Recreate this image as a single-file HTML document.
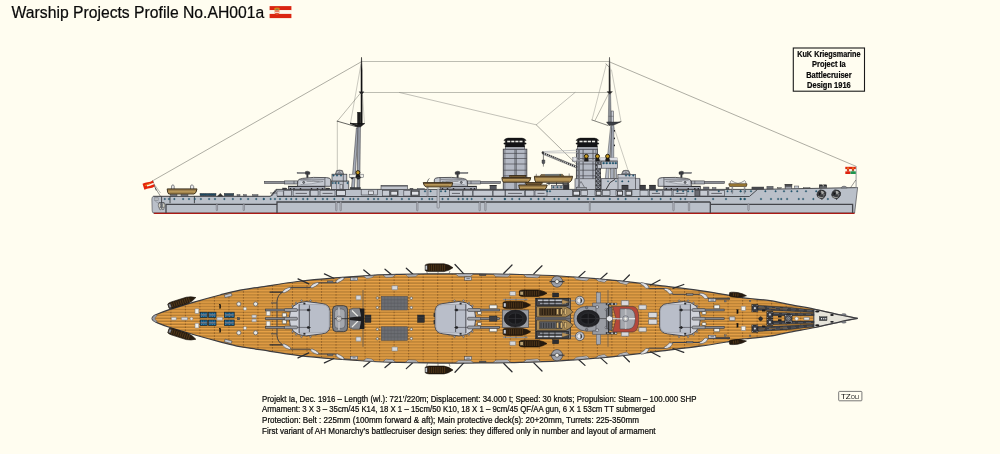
<!DOCTYPE html>
<html lang="en">
<head>
<meta charset="utf-8">
<title>Warship Projects Profile No.AH001a</title>
<style>
html,body{margin:0;padding:0;background:#FFFDF0;}
body{width:1000px;height:454px;overflow:hidden;position:relative;font-family:"Liberation Sans",sans-serif;}
svg{position:absolute;left:0;top:0;display:block;}
text{font-family:"Liberation Sans",sans-serif;}
</style>
</head>
<body>
<svg width="1000" height="454" viewBox="0 0 1000 454">
<defs>
<pattern id="deck" x="0" y="1.58" width="20" height="2.94" patternUnits="userSpaceOnUse">
<rect x="0" y="0" width="20" height="2.94" fill="#AC7730"/>
<rect x="0" y="-0.1" width="20" height="1.6" fill="#EBA448"/>
<rect x="0" y="1.5" width="20" height="0.25" fill="#C88C3C"/>
<rect x="0" y="2.7" width="20" height="0.24" fill="#C88C3C"/>
</pattern>
<clipPath id="hullclip"><path d="M151.90 318.40 C152.17 318.03 152.57 316.93 153.50 316.20 C154.43 315.47 154.75 315.15 157.50 314.00 C160.25 312.85 163.75 311.33 170.00 309.30 C176.25 307.27 186.67 304.18 195.00 301.80 C203.33 299.42 212.50 296.95 220.00 295.00 C227.50 293.05 233.33 291.42 240.00 290.10 C246.67 288.78 250.42 288.53 260.00 287.10 C269.58 285.67 285.00 283.05 297.50 281.50 C310.00 279.95 322.50 278.83 335.00 277.80 C347.50 276.77 361.67 275.87 372.50 275.30 C383.33 274.73 388.75 274.65 400.00 274.40 C411.25 274.15 426.67 273.88 440.00 273.80 C453.33 273.72 466.67 273.78 480.00 273.90 C493.33 274.02 506.67 274.15 520.00 274.50 C533.33 274.85 546.67 275.25 560.00 276.00 C573.33 276.75 590.00 278.18 600.00 279.00 C610.00 279.82 610.00 279.78 620.00 280.90 C630.00 282.02 646.67 284.08 660.00 285.70 C673.33 287.32 688.50 289.02 700.00 290.60 C711.50 292.18 722.33 294.07 729.00 295.20 C735.67 296.33 736.50 296.85 740.00 297.40 C743.50 297.95 745.00 297.95 750.00 298.50 C755.00 299.05 763.33 299.67 770.00 300.70 C776.67 301.73 782.50 303.27 790.00 304.70 C797.50 306.13 806.67 307.60 815.00 309.30 C823.33 311.00 832.90 313.38 840.00 314.90 C847.10 316.42 854.67 317.82 857.60 318.40 L857.60 318.40 C854.67 318.98 847.10 320.38 840.00 321.90 C832.90 323.42 823.33 325.80 815.00 327.50 C806.67 329.20 797.50 330.67 790.00 332.10 C782.50 333.53 776.67 335.07 770.00 336.10 C763.33 337.13 755.00 337.75 750.00 338.30 C745.00 338.85 743.50 338.85 740.00 339.40 C736.50 339.95 735.67 340.47 729.00 341.60 C722.33 342.73 711.50 344.62 700.00 346.20 C688.50 347.78 673.33 349.48 660.00 351.10 C646.67 352.72 630.00 354.78 620.00 355.90 C610.00 357.02 610.00 356.98 600.00 357.80 C590.00 358.62 573.33 360.05 560.00 360.80 C546.67 361.55 533.33 361.95 520.00 362.30 C506.67 362.65 493.33 362.78 480.00 362.90 C466.67 363.02 453.33 363.08 440.00 363.00 C426.67 362.92 411.25 362.65 400.00 362.40 C388.75 362.15 383.33 362.07 372.50 361.50 C361.67 360.93 347.50 360.03 335.00 359.00 C322.50 357.97 310.00 356.85 297.50 355.30 C285.00 353.75 269.58 351.13 260.00 349.70 C250.42 348.27 246.67 348.02 240.00 346.70 C233.33 345.38 227.50 343.75 220.00 341.80 C212.50 339.85 203.33 337.38 195.00 335.00 C186.67 332.62 176.25 329.53 170.00 327.50 C163.75 325.47 160.25 323.95 157.50 322.80 C154.75 321.65 154.43 321.33 153.50 320.60 C152.57 319.87 152.17 318.77 151.90 318.40 Z"/></clipPath>
</defs>
<g id="rigging" fill="none" stroke-linecap="round">
<path d="M153.5 180.3 L361.3 61.8" fill="none" stroke="#77776F" stroke-width="0.6" />
<path d="M361.5 61.5 L609.3 61.5" fill="none" stroke="#A0A096" stroke-width="0.7" />
<path d="M361.5 92.5 L609.3 92.5" fill="none" stroke="#A0A096" stroke-width="0.7" />
<path d="M609.8 62.0 L856.0 166.3" fill="none" stroke="#77776F" stroke-width="0.6" />
<path d="M399.5 92.5 L536.2 124.8 L575.0 92.5" fill="none" stroke="#85857E" stroke-width="0.5" />
<path d="M536.2 124.8 L575.5 163.2" fill="none" stroke="#66665F" stroke-width="0.55" />
<path d="M361.0 64.0 L350.5 123.0" fill="none" stroke="#8A8A84" stroke-width="0.45" />
<path d="M361.0 92.5 L337.3 121.2" fill="none" stroke="#66665F" stroke-width="0.45" />
<path d="M337.3 121.2 L337.3 170.0" fill="none" stroke="#8A8A84" stroke-width="0.5" />
<path d="M337.3 121.2 L357.4 127.0" fill="none" stroke="#222" stroke-width="0.7" />
<path d="M350.5 123.0 L357.0 125.0" fill="none" stroke="#33332F" stroke-width="0.6" />
<path d="M362.5 95.0 L364.5 123.5 L358.0 126.5" fill="none" stroke="#8A8A84" stroke-width="0.4" />
<path d="M606.3 64.5 L592.0 120.0" fill="none" stroke="#8A8A84" stroke-width="0.45" />
<path d="M609.0 93.0 L595.0 120.5" fill="none" stroke="#66665F" stroke-width="0.45" />
<path d="M592.0 120.0 L608.0 125.5" fill="none" stroke="#33332F" stroke-width="0.6" />
<path d="M611.5 70.0 L621.0 121.5" fill="none" stroke="#8A8A84" stroke-width="0.45" />
<path d="M621.0 121.5 L612.0 124.5" fill="none" stroke="#33332F" stroke-width="0.6" />
<path d="M613.5 126.0 L628.3 171.0" fill="none" stroke="#8A8A84" stroke-width="0.45" />
<path d="M606.0 63.8 L609.0 67.0" fill="none" stroke="#444" stroke-width="0.5" />
</g>
<g id="masts">
<path d="M361.5 57.3 L362.1 70 L362.2 125 L361 125 L361 70 Z" fill="#111" stroke="#111" stroke-width="0.5" />
<rect x="357.50" y="112.20" width="3.20" height="13.60" fill="#1c1c1c" stroke="#111" stroke-width="0.4" />
<path d="M359 91.8 L364 91.8 L361.6 94.5 Z" fill="#222" stroke="#222" stroke-width="0.3" />
<path d="M350 123.6 L364.6 123.6" fill="none" stroke="#111" stroke-width="0.9" />
<path d="M350 123.6 L357.4 127 L360.6 127 L364.6 123.6 L361 124.4 L357 124.4 Z" fill="#1c1c1c" stroke="#111" stroke-width="0.3" />
<path d="M356.4 128 L358.2 128 L354.4 188.2 L351.5 188.2 Z" fill="#A7ADB9" stroke="#3f4046" stroke-width="0.6" />
<path d="M358.0 127 L360.4 127 L359.7 188.2 L357.0 188.2 Z" fill="#9DA3AE" stroke="#3f4046" stroke-width="0.6" />
<rect x="350.20" y="187.60" width="10.20" height="1.80" fill="#3a3b40" stroke="#222326" stroke-width="0.4" />
<path d="M609.5 57.3 L610.1 70 L610.3 92 L609 92 L609 70 Z" fill="#222" stroke="#333" stroke-width="0.5" />
<path d="M607 91.6 L612.5 91.6 L609.8 94.6 Z" fill="#222" stroke="#222" stroke-width="0.3" />
<path d="M608.8 94 L610.6 94 L611.2 122 L608.3 122 Z" fill="#8E9298" stroke="#55565C" stroke-width="0.5" />
<rect x="611.20" y="111.00" width="2.30" height="12.00" fill="#C9CDD6" stroke="#3C3C40" stroke-width="0.5" />
<line x1="608.50" y1="116.30" x2="613.50" y2="116.30" stroke="#55565C" stroke-width="0.5" />
<path d="M606.5 122 L620.5 122 L614 125 L609 125.5 Z" fill="#3a3d44" stroke="#222" stroke-width="0.4" />
<path d="M610.7 125.5 L612.0 125.5 L608.5 178.8 L605.3 178.8 Z" fill="#B9BEC8" stroke="#3f4046" stroke-width="0.5" />
<path d="M611.6 125.5 L613.8 125.5 L613.7 178.8 L610.3 178.8 Z" fill="#A7ADB9" stroke="#3f4046" stroke-width="0.5" />
<path d="M611.9 128 L610.6 170" fill="none" stroke="#55565c" stroke-width="0.4" />
<rect x="614.80" y="168.20" width="1.70" height="10.60" fill="#B4B9C3" stroke="#3f4046" stroke-width="0.5" />
<rect x="613.9" y="130" width="1.1" height="1.6" fill="#222326"/>
<rect x="613.9" y="137.6" width="1.1" height="1.6" fill="#222326"/>
<rect x="613.9" y="144.6" width="1.1" height="1.6" fill="#222326"/>
</g>
<g id="hull">
<path d="M153.3 196.3 L270.5 196.3 L276 189.4 L757 189.4 L857.6 187.6 L856.6 196 L854.6 213.6 L154.2 213.6 Q152.3 213.2 152.2 211 L151.9 199 Q151.9 196.6 153.6 196.3 Z" fill="#BAC0C9" stroke="none" stroke-width="0" />
<path d="M153.6 212.5 L854.6 212.5" fill="none" stroke="#6a6c72" stroke-width="0.6" />
<path d="M153.8 213.4 L854.6 213.4" fill="none" stroke="#AC1A14" stroke-width="1.3" />
<path d="M854.6 213 L856.6 196 L857.6 187.6" fill="none" stroke="#4a4a50" stroke-width="0.7" />
<path d="M154.2 213.2 Q152.3 213 152.2 211 L151.9 199 Q151.9 196.6 153.6 196.3" fill="none" stroke="#66686E" stroke-width="0.8" />
<path d="M153.3 196.3 L270.5 196.3 L276 189.4" fill="none" stroke="#3c3d42" stroke-width="1.0" />
<path d="M276 189.4 L757 189.4 L857.6 187.6" fill="none" stroke="#3c3d42" stroke-width="0.9" />
<path d="M277 196.5 L749.4 196.5 L757.3 189.6" fill="none" stroke="#3c3d42" stroke-width="0.9" />
<path d="M166 213 L166 204.4 L277 204.4" fill="none" stroke="#44454a" stroke-width="1.3" />
<path d="M277 213 L277 202 L710.3 202" fill="none" stroke="#44454a" stroke-width="1.3" />
<path d="M710.3 202 L710.3 213" fill="none" stroke="#44454a" stroke-width="1.3" />
<path d="M710.3 204.4 L852.6 204.4 L852.6 213" fill="none" stroke="#44454a" stroke-width="1.3" />
<rect x="216.25" y="204.00" width="1.30" height="6.60" rx="0.6" fill="#C4C8D0" stroke="#5A5B62" stroke-width="0.5"/>
<rect x="243.15" y="204.00" width="1.30" height="6.60" rx="0.6" fill="#C4C8D0" stroke="#5A5B62" stroke-width="0.5"/>
<rect x="335.65" y="201.60" width="1.30" height="9.20" rx="0.6" fill="#C4C8D0" stroke="#5A5B62" stroke-width="0.5"/>
<rect x="340.05" y="201.60" width="1.30" height="9.20" rx="0.6" fill="#C4C8D0" stroke="#5A5B62" stroke-width="0.5"/>
<rect x="416.65" y="201.60" width="1.30" height="9.20" rx="0.6" fill="#C4C8D0" stroke="#5A5B62" stroke-width="0.5"/>
<rect x="479.05" y="201.60" width="1.30" height="9.20" rx="0.6" fill="#C4C8D0" stroke="#5A5B62" stroke-width="0.5"/>
<rect x="484.75" y="201.60" width="1.30" height="9.20" rx="0.6" fill="#C4C8D0" stroke="#5A5B62" stroke-width="0.5"/>
<rect x="589.30" y="201.60" width="1.00" height="9.20" rx="0.6" fill="#C4C8D0" stroke="#5A5B62" stroke-width="0.5"/>
<rect x="672.85" y="201.60" width="1.30" height="9.20" rx="0.6" fill="#C4C8D0" stroke="#5A5B62" stroke-width="0.5"/>
<rect x="688.35" y="201.60" width="1.30" height="9.20" rx="0.6" fill="#C4C8D0" stroke="#5A5B62" stroke-width="0.5"/>
<rect x="747.85" y="204.00" width="1.30" height="6.60" rx="0.6" fill="#C4C8D0" stroke="#5A5B62" stroke-width="0.5"/>
<rect x="437.10" y="189.00" width="2.20" height="19.00" rx="0.6" fill="#C4C8D0" stroke="#5A5B62" stroke-width="0.5"/>
<rect x="427.10" y="186.50" width="1.00" height="9.80" rx="0.6" fill="#C4C8D0" stroke="#5A5B62" stroke-width="0.5"/>
<line x1="170.00" y1="196.30" x2="170.00" y2="203.20" stroke="#2c2d30" stroke-width="0.8" />
<line x1="194.40" y1="196.30" x2="194.40" y2="203.20" stroke="#2c2d30" stroke-width="0.8" />
<rect x="164.03" y="198.28" width="1.45" height="1.45" rx="0.43" fill="#22617F" stroke="#1c3c4c" stroke-width="0.3"/>
<rect x="168.28" y="198.28" width="1.45" height="1.45" rx="0.43" fill="#22617F" stroke="#1c3c4c" stroke-width="0.3"/>
<rect x="173.65" y="198.28" width="1.45" height="1.45" rx="0.43" fill="#22617F" stroke="#1c3c4c" stroke-width="0.3"/>
<rect x="182.40" y="198.28" width="1.45" height="1.45" rx="0.43" fill="#22617F" stroke="#1c3c4c" stroke-width="0.3"/>
<rect x="188.28" y="198.28" width="1.45" height="1.45" rx="0.43" fill="#22617F" stroke="#1c3c4c" stroke-width="0.3"/>
<rect x="194.03" y="198.28" width="1.45" height="1.45" rx="0.43" fill="#22617F" stroke="#1c3c4c" stroke-width="0.3"/>
<rect x="200.15" y="198.28" width="1.45" height="1.45" rx="0.43" fill="#22617F" stroke="#1c3c4c" stroke-width="0.3"/>
<rect x="208.40" y="198.28" width="1.45" height="1.45" rx="0.43" fill="#22617F" stroke="#1c3c4c" stroke-width="0.3"/>
<rect x="214.28" y="198.28" width="1.45" height="1.45" rx="0.43" fill="#22617F" stroke="#1c3c4c" stroke-width="0.3"/>
<rect x="223.65" y="198.28" width="1.45" height="1.45" rx="0.43" fill="#22617F" stroke="#1c3c4c" stroke-width="0.3"/>
<rect x="232.15" y="198.28" width="1.45" height="1.45" rx="0.43" fill="#22617F" stroke="#1c3c4c" stroke-width="0.3"/>
<rect x="240.03" y="198.28" width="1.45" height="1.45" rx="0.43" fill="#22617F" stroke="#1c3c4c" stroke-width="0.3"/>
<rect x="247.40" y="198.28" width="1.45" height="1.45" rx="0.43" fill="#22617F" stroke="#1c3c4c" stroke-width="0.3"/>
<rect x="255.53" y="198.28" width="1.45" height="1.45" rx="0.43" fill="#22617F" stroke="#1c3c4c" stroke-width="0.3"/>
<rect x="263.02" y="198.28" width="1.45" height="1.45" rx="0.43" fill="#22617F" stroke="#1c3c4c" stroke-width="0.3"/>
<rect x="263.02" y="198.28" width="1.45" height="1.45" rx="0.43" fill="#22617F" stroke="#1c3c4c" stroke-width="0.3"/>
<rect x="269.90" y="198.28" width="1.45" height="1.45" rx="0.43" fill="#22617F" stroke="#1c3c4c" stroke-width="0.3"/>
<rect x="274.27" y="198.28" width="1.45" height="1.45" rx="0.43" fill="#22617F" stroke="#1c3c4c" stroke-width="0.3"/>
<rect x="279.27" y="198.28" width="1.45" height="1.45" rx="0.43" fill="#22617F" stroke="#1c3c4c" stroke-width="0.3"/>
<rect x="285.52" y="198.28" width="1.45" height="1.45" rx="0.43" fill="#22617F" stroke="#1c3c4c" stroke-width="0.3"/>
<rect x="290.52" y="198.28" width="1.45" height="1.45" rx="0.43" fill="#22617F" stroke="#1c3c4c" stroke-width="0.3"/>
<rect x="295.52" y="198.28" width="1.45" height="1.45" rx="0.43" fill="#22617F" stroke="#1c3c4c" stroke-width="0.3"/>
<rect x="302.40" y="198.28" width="1.45" height="1.45" rx="0.43" fill="#22617F" stroke="#1c3c4c" stroke-width="0.3"/>
<rect x="306.77" y="198.28" width="1.45" height="1.45" rx="0.43" fill="#22617F" stroke="#1c3c4c" stroke-width="0.3"/>
<rect x="314.65" y="198.28" width="1.45" height="1.45" rx="0.43" fill="#22617F" stroke="#1c3c4c" stroke-width="0.3"/>
<rect x="322.15" y="198.28" width="1.45" height="1.45" rx="0.43" fill="#22617F" stroke="#1c3c4c" stroke-width="0.3"/>
<rect x="326.52" y="198.28" width="1.45" height="1.45" rx="0.43" fill="#22617F" stroke="#1c3c4c" stroke-width="0.3"/>
<rect x="333.65" y="198.28" width="1.45" height="1.45" rx="0.43" fill="#22617F" stroke="#1c3c4c" stroke-width="0.3"/>
<rect x="342.15" y="198.28" width="1.45" height="1.45" rx="0.43" fill="#22617F" stroke="#1c3c4c" stroke-width="0.3"/>
<rect x="349.52" y="198.28" width="1.45" height="1.45" rx="0.43" fill="#22617F" stroke="#1c3c4c" stroke-width="0.3"/>
<rect x="352.77" y="198.28" width="1.45" height="1.45" rx="0.43" fill="#22617F" stroke="#1c3c4c" stroke-width="0.3"/>
<rect x="357.40" y="198.28" width="1.45" height="1.45" rx="0.43" fill="#22617F" stroke="#1c3c4c" stroke-width="0.3"/>
<rect x="367.40" y="198.28" width="1.45" height="1.45" rx="0.43" fill="#22617F" stroke="#1c3c4c" stroke-width="0.3"/>
<rect x="373.27" y="198.28" width="1.45" height="1.45" rx="0.43" fill="#22617F" stroke="#1c3c4c" stroke-width="0.3"/>
<rect x="377.40" y="198.28" width="1.45" height="1.45" rx="0.43" fill="#22617F" stroke="#1c3c4c" stroke-width="0.3"/>
<rect x="386.15" y="198.28" width="1.45" height="1.45" rx="0.43" fill="#22617F" stroke="#1c3c4c" stroke-width="0.3"/>
<rect x="390.77" y="198.28" width="1.45" height="1.45" rx="0.43" fill="#22617F" stroke="#1c3c4c" stroke-width="0.3"/>
<rect x="401.15" y="198.28" width="1.45" height="1.45" rx="0.43" fill="#22617F" stroke="#1c3c4c" stroke-width="0.3"/>
<rect x="408.27" y="198.28" width="1.45" height="1.45" rx="0.43" fill="#22617F" stroke="#1c3c4c" stroke-width="0.3"/>
<rect x="421.15" y="198.28" width="1.45" height="1.45" rx="0.43" fill="#22617F" stroke="#1c3c4c" stroke-width="0.3"/>
<rect x="428.65" y="198.28" width="1.45" height="1.45" rx="0.43" fill="#22617F" stroke="#1c3c4c" stroke-width="0.3"/>
<rect x="431.52" y="198.28" width="1.45" height="1.45" rx="0.43" fill="#22617F" stroke="#1c3c4c" stroke-width="0.3"/>
<rect x="441.77" y="198.28" width="1.45" height="1.45" rx="0.43" fill="#22617F" stroke="#1c3c4c" stroke-width="0.3"/>
<rect x="447.40" y="198.28" width="1.45" height="1.45" rx="0.43" fill="#22617F" stroke="#1c3c4c" stroke-width="0.3"/>
<rect x="457.77" y="198.28" width="1.45" height="1.45" rx="0.43" fill="#22617F" stroke="#1c3c4c" stroke-width="0.3"/>
<rect x="462.15" y="198.28" width="1.45" height="1.45" rx="0.43" fill="#22617F" stroke="#1c3c4c" stroke-width="0.3"/>
<rect x="466.52" y="198.28" width="1.45" height="1.45" rx="0.43" fill="#22617F" stroke="#1c3c4c" stroke-width="0.3"/>
<rect x="470.90" y="198.28" width="1.45" height="1.45" rx="0.43" fill="#22617F" stroke="#1c3c4c" stroke-width="0.3"/>
<rect x="484.02" y="198.28" width="1.45" height="1.45" rx="0.43" fill="#22617F" stroke="#1c3c4c" stroke-width="0.3"/>
<rect x="491.15" y="198.28" width="1.45" height="1.45" rx="0.43" fill="#22617F" stroke="#1c3c4c" stroke-width="0.3"/>
<rect x="504.02" y="198.28" width="1.45" height="1.45" rx="0.43" fill="#22617F" stroke="#1c3c4c" stroke-width="0.3"/>
<rect x="504.27" y="198.28" width="1.45" height="1.45" rx="0.43" fill="#22617F" stroke="#1c3c4c" stroke-width="0.3"/>
<rect x="511.40" y="198.28" width="1.45" height="1.45" rx="0.43" fill="#22617F" stroke="#1c3c4c" stroke-width="0.3"/>
<rect x="518.65" y="198.28" width="1.45" height="1.45" rx="0.43" fill="#22617F" stroke="#1c3c4c" stroke-width="0.3"/>
<rect x="530.27" y="198.28" width="1.45" height="1.45" rx="0.43" fill="#22617F" stroke="#1c3c4c" stroke-width="0.3"/>
<rect x="537.77" y="198.28" width="1.45" height="1.45" rx="0.43" fill="#22617F" stroke="#1c3c4c" stroke-width="0.3"/>
<rect x="543.40" y="198.28" width="1.45" height="1.45" rx="0.43" fill="#22617F" stroke="#1c3c4c" stroke-width="0.3"/>
<rect x="553.65" y="198.28" width="1.45" height="1.45" rx="0.43" fill="#22617F" stroke="#1c3c4c" stroke-width="0.3"/>
<rect x="558.02" y="198.28" width="1.45" height="1.45" rx="0.43" fill="#22617F" stroke="#1c3c4c" stroke-width="0.3"/>
<rect x="566.77" y="198.28" width="1.45" height="1.45" rx="0.43" fill="#22617F" stroke="#1c3c4c" stroke-width="0.3"/>
<rect x="578.27" y="198.28" width="1.45" height="1.45" rx="0.43" fill="#22617F" stroke="#1c3c4c" stroke-width="0.3"/>
<rect x="587.15" y="198.28" width="1.45" height="1.45" rx="0.43" fill="#22617F" stroke="#1c3c4c" stroke-width="0.3"/>
<rect x="593.02" y="198.28" width="1.45" height="1.45" rx="0.43" fill="#22617F" stroke="#1c3c4c" stroke-width="0.3"/>
<rect x="609.02" y="198.28" width="1.45" height="1.45" rx="0.43" fill="#22617F" stroke="#1c3c4c" stroke-width="0.3"/>
<rect x="617.40" y="198.28" width="1.45" height="1.45" rx="0.43" fill="#22617F" stroke="#1c3c4c" stroke-width="0.3"/>
<rect x="624.90" y="198.28" width="1.45" height="1.45" rx="0.43" fill="#22617F" stroke="#1c3c4c" stroke-width="0.3"/>
<rect x="638.02" y="198.28" width="1.45" height="1.45" rx="0.43" fill="#22617F" stroke="#1c3c4c" stroke-width="0.3"/>
<rect x="651.15" y="198.28" width="1.45" height="1.45" rx="0.43" fill="#22617F" stroke="#1c3c4c" stroke-width="0.3"/>
<rect x="659.90" y="198.28" width="1.45" height="1.45" rx="0.43" fill="#22617F" stroke="#1c3c4c" stroke-width="0.3"/>
<rect x="669.90" y="198.28" width="1.45" height="1.45" rx="0.43" fill="#22617F" stroke="#1c3c4c" stroke-width="0.3"/>
<rect x="679.90" y="198.28" width="1.45" height="1.45" rx="0.43" fill="#22617F" stroke="#1c3c4c" stroke-width="0.3"/>
<rect x="684.52" y="198.28" width="1.45" height="1.45" rx="0.43" fill="#22617F" stroke="#1c3c4c" stroke-width="0.3"/>
<rect x="694.65" y="198.28" width="1.45" height="1.45" rx="0.43" fill="#22617F" stroke="#1c3c4c" stroke-width="0.3"/>
<rect x="712.40" y="198.28" width="1.45" height="1.45" rx="0.43" fill="#22617F" stroke="#1c3c4c" stroke-width="0.3"/>
<rect x="725.27" y="198.28" width="1.45" height="1.45" rx="0.43" fill="#22617F" stroke="#1c3c4c" stroke-width="0.3"/>
<rect x="739.90" y="198.28" width="1.45" height="1.45" rx="0.43" fill="#22617F" stroke="#1c3c4c" stroke-width="0.3"/>
<rect x="743.65" y="198.28" width="1.45" height="1.45" rx="0.43" fill="#22617F" stroke="#1c3c4c" stroke-width="0.3"/>
<rect x="739.90" y="198.28" width="1.45" height="1.45" rx="0.43" fill="#22617F" stroke="#1c3c4c" stroke-width="0.3"/>
<rect x="744.27" y="198.28" width="1.45" height="1.45" rx="0.43" fill="#22617F" stroke="#1c3c4c" stroke-width="0.3"/>
<rect x="760.27" y="198.28" width="1.45" height="1.45" rx="0.43" fill="#22617F" stroke="#1c3c4c" stroke-width="0.3"/>
<rect x="770.27" y="198.28" width="1.45" height="1.45" rx="0.43" fill="#22617F" stroke="#1c3c4c" stroke-width="0.3"/>
<rect x="777.40" y="198.28" width="1.45" height="1.45" rx="0.43" fill="#22617F" stroke="#1c3c4c" stroke-width="0.3"/>
<rect x="780.52" y="198.28" width="1.45" height="1.45" rx="0.43" fill="#22617F" stroke="#1c3c4c" stroke-width="0.3"/>
<rect x="786.40" y="198.28" width="1.45" height="1.45" rx="0.43" fill="#22617F" stroke="#1c3c4c" stroke-width="0.3"/>
<rect x="798.02" y="198.28" width="1.45" height="1.45" rx="0.43" fill="#22617F" stroke="#1c3c4c" stroke-width="0.3"/>
<rect x="802.40" y="198.28" width="1.45" height="1.45" rx="0.43" fill="#22617F" stroke="#1c3c4c" stroke-width="0.3"/>
<rect x="812.65" y="198.28" width="1.45" height="1.45" rx="0.43" fill="#22617F" stroke="#1c3c4c" stroke-width="0.3"/>
<rect x="827.15" y="198.28" width="1.45" height="1.45" rx="0.43" fill="#22617F" stroke="#1c3c4c" stroke-width="0.3"/>
<path d="M820.0 189.9 Q824.7 189.6 825.9 192.6 Q826.5 196.4 823.1 198.3 L821.9 199.6 L820.9 198.6 Q816.9 197.8 816.9 194.6 Q817.3 191 820.0 189.9 Z" fill="#3a3b3e" stroke="#1e1e20" stroke-width="0.6" />
<path d="M820.9 190.8 Q823.5 190.6 824.3 193 L821.7 194.6 Z" fill="#a8a9a6" stroke="none" stroke-width="0" />
<path d="M817.9 196 Q820.5 197.6 823.9 196.4 L823.1 197.6 Q819.9 198.2 817.9 196.9 Z" fill="#b8b8b2" stroke="none" stroke-width="0" />
<path d="M818.7 192 L820.9 193.6 L819.1 195.4 Z" fill="#121214" stroke="none" stroke-width="0" />
<path d="M822.3 194.4 L824.9 194 L823.9 196 Z" fill="#77787a" stroke="none" stroke-width="0" />
<path d="M834.7 189.9 Q839.4000000000001 189.6 840.6 192.6 Q841.2 196.4 837.8000000000001 198.3 L836.6 199.6 L835.6 198.6 Q831.6 197.8 831.6 194.6 Q832.0 191 834.7 189.9 Z" fill="#3a3b3e" stroke="#1e1e20" stroke-width="0.6" />
<path d="M835.6 190.8 Q838.2 190.6 839.0 193 L836.4000000000001 194.6 Z" fill="#a8a9a6" stroke="none" stroke-width="0" />
<path d="M832.6 196 Q835.2 197.6 838.6 196.4 L837.8000000000001 197.6 Q834.6 198.2 832.6 196.9 Z" fill="#b8b8b2" stroke="none" stroke-width="0" />
<path d="M833.4000000000001 192 L835.6 193.6 L833.8000000000001 195.4 Z" fill="#121214" stroke="none" stroke-width="0" />
<path d="M837.0 194.4 L839.6 194 L838.6 196 Z" fill="#77787a" stroke="none" stroke-width="0" />
<rect x="154.60" y="197.80" width="4.00" height="2.60" fill="#A4A7AD" stroke="#6d7078" stroke-width="0.4" />
<line x1="154.60" y1="199.10" x2="158.60" y2="199.10" stroke="#D8D9DC" stroke-width="0.6" />
<path d="M155.4 201.4 L158.4 203.2" fill="none" stroke="#77797f" stroke-width="0.5" />
<line x1="161.60" y1="196.60" x2="161.60" y2="203.60" stroke="#2c2d30" stroke-width="0.8" />
<ellipse cx="159.50" cy="205.40" rx="1.20" ry="2.70" fill="#D4D1C4" stroke="#4a4b50" stroke-width="0.6" />
<ellipse cx="163.70" cy="205.40" rx="1.20" ry="2.70" fill="#D4D1C4" stroke="#4a4b50" stroke-width="0.6" />
<path d="M158.6 203 Q161.6 201.6 164.6 203 M161.6 203.4 L161.6 208" fill="none" stroke="#3a3b40" stroke-width="0.7" />
<circle cx="160.40" cy="208.60" r="1.10" fill="#D0CFC8" stroke="#4a4b50" stroke-width="0.6" />
<circle cx="162.90" cy="208.60" r="1.10" fill="#D0CFC8" stroke="#4a4b50" stroke-width="0.6" />
</g>
<g id="superstructure">
<path d="M271.4 196.2 L276.6 190.2" fill="none" stroke="#2c2d30" stroke-width="0.8" />
<line x1="270.00" y1="193.00" x2="283.60" y2="193.00" stroke="#3C3C40" stroke-width="0.7" />
<rect x="277.00" y="191.00" width="6.20" height="5.00" fill="#C6CAD2" stroke="#3E3F45" stroke-width="0.5" />
<rect x="282.60" y="188.00" width="4.20" height="1.40" fill="#3f4045" stroke="#222" stroke-width="0.3" />
<rect x="325.80" y="188.00" width="4.00" height="1.40" fill="#3f4045" stroke="#222" stroke-width="0.3" />
<rect x="283.80" y="190.40" width="7.50" height="5.60" fill="#C6CAD2" stroke="#3E3F45" stroke-width="0.6" />
<rect x="293.10" y="190.40" width="16.30" height="5.60" fill="#C6CAD2" stroke="#3E3F45" stroke-width="0.6" />
<line x1="295.60" y1="193.40" x2="306.90" y2="193.40" stroke="#4a4a50" stroke-width="0.8" />
<rect x="310.60" y="190.40" width="7.50" height="5.60" fill="#C6CAD2" stroke="#3E3F45" stroke-width="0.6" />
<rect x="320.00" y="190.40" width="15.00" height="5.60" fill="#C6CAD2" stroke="#3E3F45" stroke-width="0.6" />
<line x1="322.50" y1="193.40" x2="332.50" y2="193.40" stroke="#4a4a50" stroke-width="0.8" />
<rect x="336.30" y="190.40" width="8.70" height="5.60" fill="#C6CAD2" stroke="#3E3F45" stroke-width="0.6" />
<rect x="382.50" y="190.40" width="6.90" height="5.60" fill="#C6CAD2" stroke="#3E3F45" stroke-width="0.6" />
<rect x="390.00" y="190.40" width="8.10" height="5.60" fill="#C6CAD2" stroke="#3E3F45" stroke-width="0.6" />
<rect x="403.80" y="190.40" width="6.80" height="5.60" fill="#C6CAD2" stroke="#3E3F45" stroke-width="0.6" />
<rect x="411.30" y="190.40" width="8.10" height="5.60" fill="#C6CAD2" stroke="#3E3F45" stroke-width="0.6" />
<rect x="449.40" y="190.40" width="13.10" height="5.60" fill="#C6CAD2" stroke="#3E3F45" stroke-width="0.6" />
<line x1="451.90" y1="193.40" x2="460.00" y2="193.40" stroke="#4a4a50" stroke-width="0.8" />
<rect x="463.10" y="190.40" width="9.40" height="5.60" fill="#C6CAD2" stroke="#3E3F45" stroke-width="0.6" />
<rect x="473.10" y="190.40" width="19.40" height="5.60" fill="#C6CAD2" stroke="#3E3F45" stroke-width="0.6" />
<rect x="493.10" y="190.40" width="11.90" height="5.60" fill="#C6CAD2" stroke="#3E3F45" stroke-width="0.6" />
<rect x="505.60" y="190.40" width="18.80" height="5.60" fill="#C6CAD2" stroke="#3E3F45" stroke-width="0.6" />
<line x1="508.10" y1="193.40" x2="521.90" y2="193.40" stroke="#4a4a50" stroke-width="0.8" />
<rect x="525.60" y="190.40" width="8.40" height="5.60" fill="#C6CAD2" stroke="#3E3F45" stroke-width="0.6" />
<rect x="535.00" y="190.40" width="12.00" height="5.60" fill="#C6CAD2" stroke="#3E3F45" stroke-width="0.6" />
<line x1="537.50" y1="193.40" x2="544.50" y2="193.40" stroke="#4a4a50" stroke-width="0.8" />
<rect x="572.50" y="190.60" width="7.50" height="4.80" fill="#C6CAD2" stroke="#3E3F45" stroke-width="0.6" />
<rect x="581.00" y="190.60" width="6.50" height="4.80" fill="#C6CAD2" stroke="#3E3F45" stroke-width="0.6" />
<rect x="595.00" y="190.60" width="6.00" height="4.80" fill="#C6CAD2" stroke="#3E3F45" stroke-width="0.6" />
<rect x="602.50" y="190.60" width="7.50" height="4.80" fill="#C6CAD2" stroke="#3E3F45" stroke-width="0.6" />
<rect x="616.00" y="190.60" width="6.00" height="4.80" fill="#C6CAD2" stroke="#3E3F45" stroke-width="0.6" />
<rect x="625.00" y="190.60" width="7.00" height="4.80" fill="#C6CAD2" stroke="#3E3F45" stroke-width="0.6" />
<rect x="640.00" y="190.40" width="8.10" height="5.60" fill="#C6CAD2" stroke="#3E3F45" stroke-width="0.6" />
<rect x="649.40" y="190.40" width="13.10" height="5.60" fill="#C6CAD2" stroke="#3E3F45" stroke-width="0.6" />
<line x1="651.90" y1="193.40" x2="660.00" y2="193.40" stroke="#4a4a50" stroke-width="0.8" />
<rect x="663.80" y="190.40" width="8.10" height="5.60" fill="#C6CAD2" stroke="#3E3F45" stroke-width="0.6" />
<rect x="673.10" y="190.40" width="13.80" height="5.60" fill="#C6CAD2" stroke="#3E3F45" stroke-width="0.6" />
<line x1="675.60" y1="193.40" x2="684.40" y2="193.40" stroke="#4a4a50" stroke-width="0.8" />
<rect x="695.00" y="190.40" width="4.40" height="5.60" fill="#C6CAD2" stroke="#3E3F45" stroke-width="0.6" />
<rect x="700.00" y="190.40" width="7.50" height="5.60" fill="#C6CAD2" stroke="#3E3F45" stroke-width="0.6" />
<rect x="708.80" y="190.40" width="15.60" height="5.60" fill="#C6CAD2" stroke="#3E3F45" stroke-width="0.6" />
<line x1="711.30" y1="193.40" x2="721.90" y2="193.40" stroke="#4a4a50" stroke-width="0.8" />
<rect x="695.00" y="190.40" width="4.40" height="5.60" fill="#6a6c73" stroke="#3C3C40" stroke-width="0.5" />
<rect x="390.80" y="191.20" width="6.60" height="4.00" fill="#E0E2E7" stroke="#2c2d30" stroke-width="0.8" />
<rect x="411.60" y="191.20" width="7.20" height="4.00" fill="#E0E2E7" stroke="#2c2d30" stroke-width="0.8" />
<rect x="573.20" y="191.20" width="6.40" height="4.00" fill="#E0E2E7" stroke="#2c2d30" stroke-width="0.8" />
<rect x="596.20" y="191.20" width="4.80" height="4.00" fill="#E0E2E7" stroke="#2c2d30" stroke-width="0.8" />
<rect x="617.40" y="191.20" width="5.20" height="4.00" fill="#E0E2E7" stroke="#2c2d30" stroke-width="0.8" />
<rect x="626.00" y="191.20" width="5.60" height="4.00" fill="#E0E2E7" stroke="#2c2d30" stroke-width="0.8" />
<rect x="424.27" y="190.58" width="1.45" height="1.45" rx="0.43" fill="#22617F" stroke="#1c3c4c" stroke-width="0.3"/>
<rect x="429.90" y="190.58" width="1.45" height="1.45" rx="0.43" fill="#22617F" stroke="#1c3c4c" stroke-width="0.3"/>
<rect x="440.27" y="190.58" width="1.45" height="1.45" rx="0.43" fill="#22617F" stroke="#1c3c4c" stroke-width="0.3"/>
<rect x="444.65" y="190.58" width="1.45" height="1.45" rx="0.43" fill="#22617F" stroke="#1c3c4c" stroke-width="0.3"/>
<rect x="546.52" y="190.58" width="1.45" height="1.45" rx="0.43" fill="#22617F" stroke="#1c3c4c" stroke-width="0.3"/>
<rect x="549.27" y="190.58" width="1.45" height="1.45" rx="0.43" fill="#22617F" stroke="#1c3c4c" stroke-width="0.3"/>
<rect x="656.15" y="190.58" width="1.45" height="1.45" rx="0.43" fill="#22617F" stroke="#1c3c4c" stroke-width="0.3"/>
<rect x="676.77" y="190.58" width="1.45" height="1.45" rx="0.43" fill="#22617F" stroke="#1c3c4c" stroke-width="0.3"/>
<rect x="682.40" y="190.58" width="1.45" height="1.45" rx="0.43" fill="#22617F" stroke="#1c3c4c" stroke-width="0.3"/>
<rect x="687.40" y="190.58" width="1.45" height="1.45" rx="0.43" fill="#22617F" stroke="#1c3c4c" stroke-width="0.3"/>
<rect x="691.77" y="190.58" width="1.45" height="1.45" rx="0.43" fill="#22617F" stroke="#1c3c4c" stroke-width="0.3"/>
<rect x="718.02" y="190.58" width="1.45" height="1.45" rx="0.43" fill="#22617F" stroke="#1c3c4c" stroke-width="0.3"/>
<rect x="726.77" y="190.58" width="1.45" height="1.45" rx="0.43" fill="#22617F" stroke="#1c3c4c" stroke-width="0.3"/>
<rect x="731.15" y="190.58" width="1.45" height="1.45" rx="0.43" fill="#22617F" stroke="#1c3c4c" stroke-width="0.3"/>
<rect x="739.90" y="190.58" width="1.45" height="1.45" rx="0.43" fill="#22617F" stroke="#1c3c4c" stroke-width="0.3"/>
<rect x="739.90" y="190.58" width="1.45" height="1.45" rx="0.43" fill="#22617F" stroke="#1c3c4c" stroke-width="0.3"/>
<rect x="744.27" y="190.58" width="1.45" height="1.45" rx="0.43" fill="#22617F" stroke="#1c3c4c" stroke-width="0.3"/>
<rect x="750.27" y="190.58" width="1.45" height="1.45" rx="0.43" fill="#22617F" stroke="#1c3c4c" stroke-width="0.3"/>
<rect x="764.65" y="190.58" width="1.45" height="1.45" rx="0.43" fill="#22617F" stroke="#1c3c4c" stroke-width="0.3"/>
<rect x="774.90" y="190.58" width="1.45" height="1.45" rx="0.43" fill="#22617F" stroke="#1c3c4c" stroke-width="0.3"/>
<rect x="783.27" y="190.58" width="1.45" height="1.45" rx="0.43" fill="#22617F" stroke="#1c3c4c" stroke-width="0.3"/>
<rect x="790.77" y="190.58" width="1.45" height="1.45" rx="0.43" fill="#22617F" stroke="#1c3c4c" stroke-width="0.3"/>
<rect x="796.52" y="190.58" width="1.45" height="1.45" rx="0.43" fill="#22617F" stroke="#1c3c4c" stroke-width="0.3"/>
<rect x="805.27" y="190.58" width="1.45" height="1.45" rx="0.43" fill="#22617F" stroke="#1c3c4c" stroke-width="0.3"/>
<rect x="815.52" y="190.58" width="1.45" height="1.45" rx="0.43" fill="#22617F" stroke="#1c3c4c" stroke-width="0.3"/>
<rect x="361.20" y="189.40" width="16.30" height="5.60" fill="#C6CAD2" stroke="#3E3F45" stroke-width="0.6" />
<rect x="368.50" y="191.00" width="5.00" height="3.40" fill="#DDE0E6" stroke="#3C3C40" stroke-width="0.6" />
<rect x="381.00" y="185.60" width="26.50" height="3.80" fill="#C0C4CC" stroke="#3E3F45" stroke-width="0.6" />
<line x1="381.00" y1="186.00" x2="407.50" y2="186.00" stroke="#3C3C40" stroke-width="0.8" />
<rect x="410.00" y="188.20" width="3.00" height="1.20" fill="#55565C" stroke="#3C3C40" stroke-width="0.4" />
<rect x="417.50" y="188.40" width="7.00" height="1.00" fill="#8b8e96" stroke="#3E3F45" stroke-width="0.4" />
<rect x="200.00" y="193.40" width="16.00" height="2.40" fill="#274d63" stroke="#2a2a2e" stroke-width="0.4" />
<rect x="201.15" y="194.05" width="0.9" height="0.9" rx="0.27" fill="#22617F" stroke="#1c3c4c" stroke-width="0.3"/>
<rect x="203.15" y="194.05" width="0.9" height="0.9" rx="0.27" fill="#22617F" stroke="#1c3c4c" stroke-width="0.3"/>
<rect x="205.15" y="194.05" width="0.9" height="0.9" rx="0.27" fill="#22617F" stroke="#1c3c4c" stroke-width="0.3"/>
<rect x="209.05" y="194.05" width="0.9" height="0.9" rx="0.27" fill="#22617F" stroke="#1c3c4c" stroke-width="0.3"/>
<rect x="211.05" y="194.05" width="0.9" height="0.9" rx="0.27" fill="#22617F" stroke="#1c3c4c" stroke-width="0.3"/>
<rect x="213.05" y="194.05" width="0.9" height="0.9" rx="0.27" fill="#22617F" stroke="#1c3c4c" stroke-width="0.3"/>
<path d="M217.5 196.2 L220.3 193.2 L223 196.2 Z" fill="#333" stroke="#222" stroke-width="0.3" />
<rect x="224.20" y="193.40" width="9.60" height="2.40" fill="#334a58" stroke="#2a2a2e" stroke-width="0.4" />
<rect x="237.00" y="194.60" width="3.00" height="1.60" fill="#6d7078" stroke="#3C3C40" stroke-width="0.4" />
<rect x="243.50" y="194.60" width="3.00" height="1.60" fill="#6d7078" stroke="#3C3C40" stroke-width="0.4" />
<rect x="252.50" y="194.60" width="5.50" height="1.60" fill="#6d7078" stroke="#3C3C40" stroke-width="0.4" />
<rect x="170.50" y="194.60" width="6.50" height="1.60" fill="#6d7078" stroke="#3C3C40" stroke-width="0.4" />
<rect x="181.00" y="194.60" width="7.00" height="1.60" fill="#6d7078" stroke="#3C3C40" stroke-width="0.4" />
<rect x="288.50" y="186.20" width="36.40" height="3.00" fill="#A9ADB7" stroke="#333438" stroke-width="0.7" />
<line x1="288.50" y1="186.50" x2="324.90" y2="186.50" stroke="#2c2d30" stroke-width="1.0" />
<rect x="289.80" y="188.1" width="1.4" height="1.3" fill="#222326"/>
<rect x="293.30" y="188.1" width="1.4" height="1.3" fill="#222326"/>
<rect x="299.80" y="188.1" width="1.4" height="1.3" fill="#222326"/>
<rect x="310.80" y="188.1" width="1.4" height="1.3" fill="#222326"/>
<rect x="316.80" y="188.1" width="1.4" height="1.3" fill="#222326"/>
<rect x="321.80" y="188.1" width="1.4" height="1.3" fill="#222326"/>
<rect x="264.50" y="181.40" width="33.00" height="2.00" fill="#8E9197" stroke="#3f4046" stroke-width="0.6" />
<rect x="284.50" y="180.90" width="13.00" height="3.10" fill="#A9ADB5" stroke="#3f4046" stroke-width="0.6" />
<line x1="294.00" y1="180.90" x2="294.00" y2="184.00" stroke="#3f4046" stroke-width="0.6" />
<path d="M297.5 186.3 L297.8 181 L298.9 179.4 L302.5 178.4 L313.5 177.4 L326.5 177.6 Q330.7 177.8 330.7 179.8 L330.7 186.3 Z" fill="#C3C7CF" stroke="#333438" stroke-width="0.8" />
<line x1="324.90" y1="177.80" x2="324.90" y2="186.20" stroke="#45464c" stroke-width="0.7" />
<path d="M299.5 179.8 Q311.5 178.6 324.5 179.4" fill="none" stroke="#55565c" stroke-width="0.6" />
<path d="M300.5 180.8 Q311.5 179.6 323.1 181.4 Q311.5 184.4 300.5 184.6" fill="#D6D9DF" stroke="#6d7078" stroke-width="0.5" />
<path d="M306.5 181.6 Q313.5 181.2 319.5 181.6" fill="none" stroke="#55565c" stroke-width="0.5" />
<circle cx="303.70" cy="182.40" r="1.00" fill="#8b8e96" stroke="#222326" stroke-width="0.6" />
<rect x="297.10" y="172.40" width="9.40" height="1.10" fill="#8a8c90" stroke="#45464c" stroke-width="0.4" />
<path d="M305.5 171.6 L307.5 171.2 L309.8 172 L309.8 174.2 L308.1 174.6 L308.1 177.6 L306.7 177.6 L306.7 174.6 L305.5 174.2 Z" fill="#3a3b40" stroke="#222326" stroke-width="0.4" />
<rect x="440.10" y="186.20" width="36.40" height="3.00" fill="#A9ADB7" stroke="#333438" stroke-width="0.7" />
<line x1="440.10" y1="186.50" x2="476.50" y2="186.50" stroke="#2c2d30" stroke-width="1.0" />
<rect x="473.80" y="188.1" width="1.4" height="1.3" fill="#222326"/>
<rect x="470.30" y="188.1" width="1.4" height="1.3" fill="#222326"/>
<rect x="463.80" y="188.1" width="1.4" height="1.3" fill="#222326"/>
<rect x="452.80" y="188.1" width="1.4" height="1.3" fill="#222326"/>
<rect x="446.80" y="188.1" width="1.4" height="1.3" fill="#222326"/>
<rect x="441.80" y="188.1" width="1.4" height="1.3" fill="#222326"/>
<rect x="467.50" y="181.40" width="33.00" height="2.00" fill="#8E9197" stroke="#3f4046" stroke-width="0.6" />
<rect x="467.50" y="180.90" width="13.00" height="3.10" fill="#A9ADB5" stroke="#3f4046" stroke-width="0.6" />
<line x1="471.00" y1="180.90" x2="471.00" y2="184.00" stroke="#3f4046" stroke-width="0.6" />
<path d="M467.5 186.3 L467.2 181 L466.1 179.4 L462.5 178.4 L451.5 177.4 L438.5 177.6 Q434.3 177.8 434.3 179.8 L434.3 186.3 Z" fill="#C3C7CF" stroke="#333438" stroke-width="0.8" />
<line x1="440.10" y1="177.80" x2="440.10" y2="186.20" stroke="#45464c" stroke-width="0.7" />
<path d="M465.5 179.8 Q453.5 178.6 440.5 179.4" fill="none" stroke="#55565c" stroke-width="0.6" />
<path d="M464.5 180.8 Q453.5 179.6 441.9 181.4 Q453.5 184.4 464.5 184.6" fill="#D6D9DF" stroke="#6d7078" stroke-width="0.5" />
<path d="M458.5 181.6 Q451.5 181.2 445.5 181.6" fill="none" stroke="#55565c" stroke-width="0.5" />
<circle cx="461.30" cy="182.40" r="1.00" fill="#8b8e96" stroke="#222326" stroke-width="0.6" />
<rect x="458.50" y="172.40" width="9.40" height="1.10" fill="#8a8c90" stroke="#45464c" stroke-width="0.4" />
<path d="M459.5 171.6 L457.5 171.2 L455.2 172 L455.2 174.2 L456.9 174.6 L456.9 177.6 L458.3 177.6 L458.3 174.6 L459.5 174.2 Z" fill="#3a3b40" stroke="#222326" stroke-width="0.4" />
<rect x="663.90" y="186.20" width="36.40" height="3.00" fill="#A9ADB7" stroke="#333438" stroke-width="0.7" />
<line x1="663.90" y1="186.50" x2="700.30" y2="186.50" stroke="#2c2d30" stroke-width="1.0" />
<rect x="697.60" y="188.1" width="1.4" height="1.3" fill="#222326"/>
<rect x="694.10" y="188.1" width="1.4" height="1.3" fill="#222326"/>
<rect x="687.60" y="188.1" width="1.4" height="1.3" fill="#222326"/>
<rect x="676.60" y="188.1" width="1.4" height="1.3" fill="#222326"/>
<rect x="670.60" y="188.1" width="1.4" height="1.3" fill="#222326"/>
<rect x="665.60" y="188.1" width="1.4" height="1.3" fill="#222326"/>
<rect x="691.30" y="181.40" width="33.00" height="2.00" fill="#8E9197" stroke="#3f4046" stroke-width="0.6" />
<rect x="691.30" y="180.90" width="13.00" height="3.10" fill="#A9ADB5" stroke="#3f4046" stroke-width="0.6" />
<line x1="694.80" y1="180.90" x2="694.80" y2="184.00" stroke="#3f4046" stroke-width="0.6" />
<path d="M691.3 186.3 L691.0 181 L689.9 179.4 L686.3 178.4 L675.3 177.4 L662.3 177.6 Q658.0999999999999 177.8 658.0999999999999 179.8 L658.0999999999999 186.3 Z" fill="#C3C7CF" stroke="#333438" stroke-width="0.8" />
<line x1="663.90" y1="177.80" x2="663.90" y2="186.20" stroke="#45464c" stroke-width="0.7" />
<path d="M689.3 179.8 Q677.3 178.6 664.3 179.4" fill="none" stroke="#55565c" stroke-width="0.6" />
<path d="M688.3 180.8 Q677.3 179.6 665.6999999999999 181.4 Q677.3 184.4 688.3 184.6" fill="#D6D9DF" stroke="#6d7078" stroke-width="0.5" />
<path d="M682.3 181.6 Q675.3 181.2 669.3 181.6" fill="none" stroke="#55565c" stroke-width="0.5" />
<circle cx="685.10" cy="182.40" r="1.00" fill="#8b8e96" stroke="#222326" stroke-width="0.6" />
<rect x="682.30" y="172.40" width="9.40" height="1.10" fill="#8a8c90" stroke="#45464c" stroke-width="0.4" />
<path d="M683.3 171.6 L681.3 171.2 L679.0 172 L679.0 174.2 L680.6999999999999 174.6 L680.6999999999999 177.6 L682.0999999999999 177.6 L682.0999999999999 174.6 L683.3 174.2 Z" fill="#3a3b40" stroke="#222326" stroke-width="0.4" />
<rect x="331.60" y="181.00" width="17.20" height="8.40" fill="#BFC3CC" stroke="#333438" stroke-width="0.7" />
<rect x="332.00" y="174.20" width="14.80" height="6.80" fill="#BFC3CC" stroke="#333438" stroke-width="0.7" />
<line x1="343.30" y1="174.20" x2="343.30" y2="189.40" stroke="#333438" stroke-width="0.6" />
<line x1="336.50" y1="181.00" x2="336.50" y2="189.40" stroke="#45464c" stroke-width="0.5" />
<path d="M335.4 174.2 L336.6 170.6 Q339.5 169.6 342.4 170.6 L343.6 174.2 Z" fill="#8b8e96" stroke="#333438" stroke-width="0.6" />
<path d="M337 172.8 L338.4 171.2 M342 172.8 L340.6 171.2" fill="none" stroke="#E8E9EC" stroke-width="0.8" />
<rect x="332.75" y="174.65" width="1.5" height="1.5" rx="0.45" fill="#22617F" stroke="#1c3c4c" stroke-width="0.3"/>
<rect x="336.25" y="174.65" width="1.5" height="1.5" rx="0.45" fill="#22617F" stroke="#1c3c4c" stroke-width="0.3"/>
<rect x="340.25" y="174.65" width="1.5" height="1.5" rx="0.45" fill="#22617F" stroke="#1c3c4c" stroke-width="0.3"/>
<rect x="332.10" y="182.30" width="1.4" height="1.4" rx="0.42" fill="#22617F" stroke="#1c3c4c" stroke-width="0.3"/>
<rect x="334.70" y="182.30" width="1.4" height="1.4" rx="0.42" fill="#22617F" stroke="#1c3c4c" stroke-width="0.3"/>
<rect x="337.90" y="182.30" width="1.4" height="1.4" rx="0.42" fill="#22617F" stroke="#1c3c4c" stroke-width="0.3"/>
<rect x="346.80" y="182.30" width="1.4" height="1.4" rx="0.42" fill="#22617F" stroke="#1c3c4c" stroke-width="0.3"/>
<rect x="340.00" y="184.20" width="2.40" height="4.80" fill="#D0D3DA" stroke="#3E3F45" stroke-width="0.5" />
<rect x="336.60" y="190.50" width="8.80" height="5.10" fill="#D6D9DF" stroke="#333438" stroke-width="0.7" />
<rect x="349.20" y="174.20" width="14.40" height="3.20" fill="#F0F0EA" stroke="#55565c" stroke-width="0.5" />
<path d="M350 177.4 L352 179.6 L354.6 177.4 Z M355.5 177.4 L358 179.8 L361.6 177.4 Z" fill="#222326" stroke="none" stroke-width="0" />
<path d="M356.6 174.2 L359.3 174.2 L360.2 176 L360.2 177.6 L355.8 177.6 L355.8 176 Z" fill="#1b1b1d" stroke="#111" stroke-width="0.3" />
<circle cx="357.90" cy="172.60" r="2.00" fill="#C79A22" stroke="#1a1408" stroke-width="0.9" />
<rect x="505.30" y="146.60" width="19.30" height="2.80" fill="#C3C7D0" stroke="#3E3F45" stroke-width="0.6" />
<rect x="503.30" y="149.20" width="23.50" height="40.20" fill="#B4B9C4" stroke="#3E3F45" stroke-width="0.9" />
<line x1="503.30" y1="153.40" x2="526.80" y2="153.40" stroke="#4a4b52" stroke-width="0.7" />
<line x1="503.30" y1="158.50" x2="526.80" y2="158.50" stroke="#4a4b52" stroke-width="0.7" />
<line x1="503.30" y1="164.00" x2="526.80" y2="164.00" stroke="#4a4b52" stroke-width="0.7" />
<line x1="503.30" y1="170.20" x2="526.80" y2="170.20" stroke="#4a4b52" stroke-width="0.7" />
<line x1="503.30" y1="175.80" x2="526.80" y2="175.80" stroke="#4a4b52" stroke-width="0.7" />
<line x1="503.30" y1="181.50" x2="526.80" y2="181.50" stroke="#4a4b52" stroke-width="0.7" />
<line x1="514.95" y1="149.50" x2="514.95" y2="189.40" stroke="#44454b" stroke-width="0.7" />
<line x1="516.25" y1="149.50" x2="516.25" y2="189.40" stroke="#44454b" stroke-width="0.7" />
<line x1="504.90" y1="149.50" x2="504.90" y2="189.40" stroke="#55565c" stroke-width="0.6" />
<line x1="525.20" y1="149.50" x2="525.20" y2="189.40" stroke="#55565c" stroke-width="0.6" />
<path d="M505.29999999999995 147 L505.29999999999995 144.3 L503.9 144.1 L503.9 143.1 L505.29999999999995 142.8 L505.29999999999995 140.6 L503.9 140.5 L504.09999999999997 139.9 Q505.9 138.3 508.0 138.1 L522.0 138.1 Q524.1 138.3 525.9 139.9 L526.1 140.5 L524.6 140.6 L524.6 142.8 L526.1 143.1 L526.1 144.1 L524.6 144.3 L524.6 147 Z" fill="#141416" stroke="#111" stroke-width="0.4" />
<rect x="507.20" y="140.70" width="3.08" height="1.60" fill="#EDEDE6" stroke="none" stroke-width="0" />
<rect x="511.27" y="140.70" width="3.08" height="1.60" fill="#EDEDE6" stroke="none" stroke-width="0" />
<rect x="515.35" y="140.70" width="3.08" height="1.60" fill="#EDEDE6" stroke="none" stroke-width="0" />
<rect x="519.42" y="140.70" width="3.08" height="1.60" fill="#EDEDE6" stroke="none" stroke-width="0" />
<rect x="577.50" y="146.60" width="19.70" height="2.80" fill="#C3C7D0" stroke="#3E3F45" stroke-width="0.6" />
<rect x="576.40" y="149.20" width="21.00" height="40.20" fill="#B4B9C4" stroke="#3E3F45" stroke-width="0.9" />
<line x1="576.40" y1="153.40" x2="597.40" y2="153.40" stroke="#4a4b52" stroke-width="0.7" />
<line x1="576.40" y1="158.50" x2="597.40" y2="158.50" stroke="#4a4b52" stroke-width="0.7" />
<line x1="576.40" y1="164.00" x2="597.40" y2="164.00" stroke="#4a4b52" stroke-width="0.7" />
<line x1="576.40" y1="170.20" x2="597.40" y2="170.20" stroke="#4a4b52" stroke-width="0.7" />
<line x1="576.40" y1="175.80" x2="597.40" y2="175.80" stroke="#4a4b52" stroke-width="0.7" />
<line x1="576.40" y1="181.50" x2="597.40" y2="181.50" stroke="#4a4b52" stroke-width="0.7" />
<line x1="583.10" y1="149.50" x2="583.10" y2="189.40" stroke="#44454b" stroke-width="0.8" />
<line x1="593.00" y1="149.50" x2="593.00" y2="189.40" stroke="#44454b" stroke-width="0.8" />
<line x1="578.00" y1="149.50" x2="578.00" y2="189.40" stroke="#55565c" stroke-width="0.6" />
<line x1="595.80" y1="149.50" x2="595.80" y2="189.40" stroke="#55565c" stroke-width="0.6" />
<path d="M577.5 147 L577.5 144.3 L576.1 144.1 L576.1 143.1 L577.5 142.8 L577.5 140.6 L576.1 140.5 L576.3000000000001 139.9 Q578.1 138.3 580.4000000000001 138.1 L594.4000000000001 138.1 Q596.7 138.3 598.5 139.9 L598.7 140.5 L597.2 140.6 L597.2 142.8 L598.7 143.1 L598.7 144.1 L597.2 144.3 L597.2 147 Z" fill="#141416" stroke="#111" stroke-width="0.4" />
<rect x="579.40" y="140.70" width="3.18" height="1.60" fill="#EDEDE6" stroke="none" stroke-width="0" />
<rect x="583.58" y="140.70" width="3.17" height="1.60" fill="#EDEDE6" stroke="none" stroke-width="0" />
<rect x="587.75" y="140.70" width="3.17" height="1.60" fill="#EDEDE6" stroke="none" stroke-width="0" />
<rect x="591.92" y="140.70" width="3.17" height="1.60" fill="#EDEDE6" stroke="none" stroke-width="0" />
<rect x="575.00" y="178.80" width="65.00" height="10.60" fill="#BDC1CA" stroke="#3E3F45" stroke-width="0.6" />
<rect x="601.30" y="178.80" width="17.00" height="10.60" fill="#C0C4CC" stroke="#3E3F45" stroke-width="0.5" />
<path d="M606.2 189.2 L610 182.6 L615 179.4" fill="none" stroke="#2c2d30" stroke-width="0.9" />
<rect x="576.50" y="187.30" width="9.80" height="2.10" fill="#a4a8b1" stroke="#3C3C40" stroke-width="0.5" />
<path d="M577.5 187.3 L581 181.5 L584.5 187.3" fill="none" stroke="#4a4a50" stroke-width="0.6" />
<line x1="579.20" y1="150.00" x2="579.20" y2="187.30" stroke="#3f4046" stroke-width="1.6" />
<line x1="579.20" y1="150.00" x2="579.20" y2="187.30" stroke="#C9CDD5" stroke-width="0.6" />
<rect x="595.80" y="160.50" width="4.80" height="28.90" fill="#9a9ea8" stroke="#222" stroke-width="0.6" />
<path d="M595.8 161.0 L600.6 165.1 M600.6 161.0 L595.8 165.1 M595.8 165.1 L600.6 165.1" fill="none" stroke="#1a1a1c" stroke-width="0.6" />
<path d="M595.8 165.1 L600.6 169.1 M600.6 165.1 L595.8 169.1 M595.8 169.1 L600.6 169.1" fill="none" stroke="#1a1a1c" stroke-width="0.6" />
<path d="M595.8 169.1 L600.6 173.2 M600.6 169.1 L595.8 173.2 M595.8 173.2 L600.6 173.2" fill="none" stroke="#1a1a1c" stroke-width="0.6" />
<path d="M595.8 173.2 L600.6 177.2 M600.6 173.2 L595.8 177.2 M595.8 177.2 L600.6 177.2" fill="none" stroke="#1a1a1c" stroke-width="0.6" />
<path d="M595.8 177.2 L600.6 181.2 M600.6 177.2 L595.8 181.2 M595.8 181.2 L600.6 181.2" fill="none" stroke="#1a1a1c" stroke-width="0.6" />
<path d="M595.8 181.2 L600.6 185.3 M600.6 181.2 L595.8 185.3 M595.8 185.3 L600.6 185.3" fill="none" stroke="#1a1a1c" stroke-width="0.6" />
<path d="M595.8 185.3 L600.6 189.4 M600.6 185.3 L595.8 189.4 M595.8 189.4 L600.6 189.4" fill="none" stroke="#1a1a1c" stroke-width="0.6" />
<rect x="572.50" y="160.20" width="44.90" height="1.20" fill="#D0D3DA" stroke="#55565c" stroke-width="0.4" />
<rect x="572.80" y="157.60" width="4.40" height="2.60" fill="#E4E5E8" stroke="#77797f" stroke-width="0.4" />
<rect x="601.30" y="161.20" width="16.30" height="7.00" fill="#C3C7CF" stroke="#3E3F45" stroke-width="0.6" />
<rect x="597.50" y="164.80" width="3.80" height="3.40" fill="#C3C7CF" stroke="#3E3F45" stroke-width="0.5" />
<rect x="602.70" y="162.20" width="1.8" height="1.8" rx="0.54" fill="#22617F" stroke="#1c3c4c" stroke-width="0.3"/>
<rect x="605.80" y="162.20" width="1.8" height="1.8" rx="0.54" fill="#22617F" stroke="#1c3c4c" stroke-width="0.3"/>
<rect x="609.10" y="162.20" width="1.8" height="1.8" rx="0.54" fill="#22617F" stroke="#1c3c4c" stroke-width="0.3"/>
<rect x="612.10" y="162.20" width="1.8" height="1.8" rx="0.54" fill="#22617F" stroke="#1c3c4c" stroke-width="0.3"/>
<rect x="614.90" y="162.20" width="1.8" height="1.8" rx="0.54" fill="#22617F" stroke="#1c3c4c" stroke-width="0.3"/>
<rect x="600.80" y="157.80" width="16.40" height="2.40" fill="#DADCE2" stroke="#8a8c92" stroke-width="0.4" />
<path d="M585.0 157.6 L587.5999999999999 157.6 L588.3 159.4 L588.3 161.2 L584.3 161.2 L584.3 159.4 Z" fill="#1b1b1d" stroke="#111" stroke-width="0.3" />
<circle cx="586.30" cy="156.30" r="2.00" fill="#C79A22" stroke="#1a1408" stroke-width="0.9" />
<path d="M596.2 157.6 L598.8 157.6 L599.5 159.4 L599.5 161.2 L595.5 161.2 L595.5 159.4 Z" fill="#1b1b1d" stroke="#111" stroke-width="0.3" />
<circle cx="597.50" cy="156.30" r="2.00" fill="#C79A22" stroke="#1a1408" stroke-width="0.9" />
<path d="M606.3000000000001 157.6 L608.9 157.6 L609.6 159.4 L609.6 161.2 L605.6 161.2 L605.6 159.4 Z" fill="#1b1b1d" stroke="#111" stroke-width="0.3" />
<circle cx="607.60" cy="156.30" r="2.00" fill="#C79A22" stroke="#1a1408" stroke-width="0.9" />
<rect x="618.00" y="174.40" width="17.60" height="15.00" fill="#BDC1CA" stroke="#3E3F45" stroke-width="0.6" />
<rect x="618.00" y="174.40" width="17.60" height="3.60" fill="#C6CAD2" stroke="#3E3F45" stroke-width="0.5" />
<path d="M621.6 174.2 L623 170.8 Q626 169.8 628.8 170.8 L630.2 174.2 Z" fill="#8b8e96" stroke="#333438" stroke-width="0.6" />
<path d="M623.6 173 L625 171.4 M628.2 173 L626.8 171.4" fill="none" stroke="#E8E9EC" stroke-width="0.8" />
<rect x="625.25" y="174.75" width="1.5" height="1.5" rx="0.45" fill="#22617F" stroke="#1c3c4c" stroke-width="0.3"/>
<rect x="628.65" y="174.75" width="1.5" height="1.5" rx="0.45" fill="#22617F" stroke="#1c3c4c" stroke-width="0.3"/>
<rect x="632.55" y="174.75" width="1.5" height="1.5" rx="0.45" fill="#22617F" stroke="#1c3c4c" stroke-width="0.3"/>
<rect x="621.45" y="180.85" width="1.1" height="1.1" rx="0.33" fill="#22617F" stroke="#1c3c4c" stroke-width="0.3"/>
<rect x="627.95" y="180.85" width="1.1" height="1.1" rx="0.33" fill="#22617F" stroke="#1c3c4c" stroke-width="0.3"/>
<rect x="635.60" y="178.20" width="3.90" height="11.20" fill="#BDC1CA" stroke="#3E3F45" stroke-width="0.5" />
<rect x="607.50" y="180.80" width="1.0" height="1.0" rx="0.30" fill="#22617F" stroke="#1c3c4c" stroke-width="0.3"/>
<rect x="615.50" y="180.80" width="1.0" height="1.0" rx="0.30" fill="#22617F" stroke="#1c3c4c" stroke-width="0.3"/>
<rect x="622.00" y="180.80" width="1.0" height="1.0" rx="0.30" fill="#22617F" stroke="#1c3c4c" stroke-width="0.3"/>
<rect x="621.90" y="185.20" width="6.20" height="4.20" fill="#3f4045" stroke="#222" stroke-width="0.4" />
<line x1="621.90" y1="185.40" x2="628.10" y2="185.40" stroke="#222" stroke-width="0.7" />
<rect x="640.00" y="185.20" width="5.60" height="4.20" fill="#3f4045" stroke="#222" stroke-width="0.4" />
<line x1="640.00" y1="185.40" x2="645.60" y2="185.40" stroke="#222" stroke-width="0.7" />
<rect x="649.40" y="185.20" width="6.20" height="4.20" fill="#3f4045" stroke="#222" stroke-width="0.4" />
<line x1="649.40" y1="185.40" x2="655.60" y2="185.40" stroke="#222" stroke-width="0.7" />
<rect x="490.00" y="185.30" width="6.20" height="4.10" fill="#55575e" stroke="#222" stroke-width="0.4" />
<line x1="489.60" y1="185.50" x2="496.60" y2="185.50" stroke="#222" stroke-width="0.8" />
<path d="M542.5 152.2 L577 166.2 L577 168.2 L542.3 154 Z" fill="#E4E6EA" stroke="#333" stroke-width="0.5" />
<path d="M543 153 L577 167.2" fill="none" stroke="#222" stroke-width="1.5" stroke-dasharray="1.1 1.0"/>
<path d="M543 151.6 L577 150.2 M543 152.8 L577 152.8" fill="none" stroke="#B9BBBF" stroke-width="0.8" />
<line x1="543.40" y1="153.00" x2="543.40" y2="160.00" stroke="#444" stroke-width="0.7" />
<path d="M542 160 L544.8 160 L544.8 163 L543.4 164.5 L542 163 Z" fill="#55575e" stroke="#222" stroke-width="0.4" />
<line x1="543.40" y1="164.50" x2="543.40" y2="166.60" stroke="#444" stroke-width="0.6" />
<circle cx="542.80" cy="152.60" r="1.00" fill="#333" stroke="#222" stroke-width="0.3" />
<path d="M573 158 q1.5 -2 3.5 0 l0 3 l-3.5 0 Z" fill="#E3E5EA" stroke="#7a7c82" stroke-width="0.4" />
<path d="M171.3 189 L171.6 186 Q172 184.6 173.3 184.8 L174.2 186.2 L174.2 189 M190.5 189 L190.5 186 Q191 184.6 192.4 184.8 L193.6 186.2 L193.8 189" fill="#E8E9EC" stroke="#3E3F45" stroke-width="0.6" />
<path d="M167.2 188.9 L197 188.9 Q196.4 193.4 194 194.0 L168.7 194.0 Q167.39999999999998 193.0 167.2 188.9 Z" fill="#B8985A" stroke="#2e2212" stroke-width="0.9" />
<line x1="168.10" y1="189.80" x2="196.10" y2="189.80" stroke="#6a5230" stroke-width="1.0" />
<line x1="169.70" y1="193.10" x2="193.50" y2="193.10" stroke="#7a6238" stroke-width="0.7" />
<path d="M509.4 175.6 L526 175.6 Q525.4 177.20000000000002 523 177.8 L510.9 177.8 Q509.59999999999997 176.8 509.4 175.6 Z" fill="#A88550" stroke="#2e2212" stroke-width="0.9" />
<line x1="510.30" y1="176.50" x2="525.10" y2="176.50" stroke="#6a5230" stroke-width="1.0" />
<line x1="511.90" y1="176.90" x2="522.50" y2="176.90" stroke="#7a6238" stroke-width="0.7" />
<path d="M501.9 177.6 L530.8 177.6 Q530.1999999999999 181.6 527.8 182.2 L503.4 182.2 Q502.09999999999997 181.2 501.9 177.6 Z" fill="#B8985A" stroke="#2e2212" stroke-width="0.9" />
<line x1="502.80" y1="178.50" x2="529.90" y2="178.50" stroke="#6a5230" stroke-width="1.0" />
<line x1="504.40" y1="181.30" x2="527.30" y2="181.30" stroke="#7a6238" stroke-width="0.7" />
<path d="M525.6 182.6 L542.5 182.6 Q541.9 184.6 539.5 185.2 L527.1 185.2 Q525.8000000000001 184.2 525.6 182.6 Z" fill="#A88550" stroke="#2e2212" stroke-width="0.9" />
<line x1="526.50" y1="183.50" x2="541.60" y2="183.50" stroke="#6a5230" stroke-width="1.0" />
<line x1="528.10" y1="184.30" x2="539.00" y2="184.30" stroke="#7a6238" stroke-width="0.7" />
<path d="M518.8 185 L547.2 185 Q546.6 189.0 544.2 189.6 L520.3 189.6 Q519.0 188.6 518.8 185 Z" fill="#B8985A" stroke="#2e2212" stroke-width="0.9" />
<line x1="519.70" y1="185.90" x2="546.30" y2="185.90" stroke="#6a5230" stroke-width="1.0" />
<line x1="521.30" y1="188.70" x2="543.70" y2="188.70" stroke="#7a6238" stroke-width="0.7" />
<rect x="551.40" y="185.20" width="12.20" height="4.00" fill="#A4A8B1" stroke="#3C3C40" stroke-width="0.5" />
<line x1="546.50" y1="183.40" x2="569.00" y2="183.40" stroke="#2c2d30" stroke-width="0.9" />
<line x1="549.00" y1="182.40" x2="549.00" y2="185.20" stroke="#2c2d30" stroke-width="0.8" />
<line x1="556.50" y1="182.40" x2="556.50" y2="185.20" stroke="#2c2d30" stroke-width="0.8" />
<line x1="563.00" y1="182.40" x2="563.00" y2="185.20" stroke="#2c2d30" stroke-width="0.8" />
<line x1="568.00" y1="182.40" x2="568.00" y2="185.20" stroke="#2c2d30" stroke-width="0.8" />
<rect x="552.80" y="186.60" width="1.2" height="1.2" rx="0.36" fill="#22617F" stroke="#1c3c4c" stroke-width="0.3"/>
<rect x="556.80" y="186.60" width="1.2" height="1.2" rx="0.36" fill="#22617F" stroke="#1c3c4c" stroke-width="0.3"/>
<rect x="560.40" y="186.60" width="1.2" height="1.2" rx="0.36" fill="#22617F" stroke="#1c3c4c" stroke-width="0.3"/>
<rect x="563.60" y="184.40" width="5.40" height="4.80" fill="#35363a" stroke="#222" stroke-width="0.4" />
<path d="M540 176.4 L541 174.5 L562.5 174.3 L564 176.4 Z" fill="#8b7a55" stroke="#3A2A18" stroke-width="0.5" />
<rect x="545.00" y="174.30" width="14.00" height="1.30" fill="#6a7a86" stroke="none" stroke-width="0" />
<rect x="559.75" y="174.45" width="1.1" height="1.1" rx="0.33" fill="#22617F" stroke="#1c3c4c" stroke-width="0.3"/>
<path d="M534.4 176.3 L572.6 176.3 Q572.0 181.6 569.6 182.2 L535.9 182.2 Q534.6 181.2 534.4 176.3 Z" fill="#B8985A" stroke="#2e2212" stroke-width="0.9" />
<line x1="535.30" y1="177.20" x2="571.70" y2="177.20" stroke="#6a5230" stroke-width="1.0" />
<line x1="536.90" y1="181.30" x2="569.10" y2="181.30" stroke="#7a6238" stroke-width="0.7" />
<line x1="536.30" y1="173.80" x2="536.30" y2="176.30" stroke="#333" stroke-width="0.5" />
<line x1="569.20" y1="173.50" x2="569.20" y2="176.30" stroke="#333" stroke-width="0.5" />
<path d="M452.6 182.6 L423.2 182.6 Q423.8 186.3 426.2 186.9 L451.1 186.9 Q452.40000000000003 185.9 452.6 182.6 Z" fill="#B8985A" stroke="#2e2212" stroke-width="0.9" />
<line x1="424.10" y1="183.50" x2="451.70" y2="183.50" stroke="#6a5230" stroke-width="1.0" />
<line x1="425.70" y1="186.00" x2="449.10" y2="186.00" stroke="#7a6238" stroke-width="0.7" />
<path d="M427 182.4 L428.6 179.2 L429.4 178.4" fill="none" stroke="#333" stroke-width="0.7" />
<path d="M730 184 Q730.2 180.8 731.4 180.6 Q735 183 738 183.4 Q741 183 744.6 180.6 Q745.8 180.8 746 184" fill="#F0F0EC" stroke="#3E3F45" stroke-width="0.5" />
<path d="M728.8 183.8 L747 183.8 L746.4 186.4 L729.6 186.4 Z" fill="#C9A040" stroke="#3A2A18" stroke-width="0.7" />
<line x1="729.50" y1="185.10" x2="746.50" y2="185.10" stroke="#3a2a18" stroke-width="0.5" />
<rect x="731.95" y="186.50" width="0.70" height="7.00" rx="0.6" fill="#C4C8D0" stroke="#5A5B62" stroke-width="0.5"/>
<rect x="744.25" y="186.50" width="0.70" height="7.00" rx="0.6" fill="#C4C8D0" stroke="#5A5B62" stroke-width="0.5"/>
<rect x="751.90" y="187.00" width="11.90" height="2.10" fill="#4a4b50" stroke="#333" stroke-width="0.4" />
<rect x="766.90" y="186.30" width="6.20" height="2.62" fill="#6d7078" stroke="#333" stroke-width="0.4" />
<rect x="777.50" y="187.60" width="3.80" height="1.13" fill="#8b8e96" stroke="#333" stroke-width="0.4" />
<rect x="785.00" y="184.50" width="6.90" height="4.10" fill="#55565b" stroke="#333" stroke-width="0.4" />
<rect x="794.40" y="186.00" width="4.40" height="2.43" fill="#C6CAD2" stroke="#333" stroke-width="0.4" />
<rect x="803.80" y="187.60" width="6.20" height="0.66" fill="#8b8e96" stroke="#333" stroke-width="0.4" />
<rect x="819.20" y="184.80" width="3.50" height="3.18" fill="#2c2d30" stroke="#333" stroke-width="0.4" />
<rect x="823.80" y="184.80" width="3.00" height="3.10" fill="#2c2d30" stroke="#333" stroke-width="0.4" />
<rect x="726.00" y="187.50" width="3.00" height="1.60" fill="#55565C" stroke="#333" stroke-width="0.4" />
<rect x="703.50" y="187.00" width="5.50" height="2.10" fill="#6d7078" stroke="#333" stroke-width="0.4" />
<rect x="712.50" y="187.50" width="3.50" height="1.60" fill="#8b8e96" stroke="#333" stroke-width="0.4" />
<line x1="784.60" y1="184.70" x2="792.40" y2="184.70" stroke="#222" stroke-width="0.7" />
<rect x="785.60" y="186.80" width="5.80" height="1.80" fill="#9a9da6" stroke="none" stroke-width="0" />
<rect x="819.40" y="186.30" width="7.20" height="1.50" fill="#85888e" stroke="#333" stroke-width="0.3" />
<path d="M841 188 Q841.5 186.2 844 186.1 Q846.6 186.2 847.2 188 Z" fill="#8b8e96" stroke="#444" stroke-width="0.4" />
<line x1="856.10" y1="166.40" x2="856.10" y2="188.00" stroke="#8a8c90" stroke-width="0.9" />
<line x1="850.60" y1="187.60" x2="855.80" y2="180.00" stroke="#333" stroke-width="0.5" />
<g>
<rect x="845.30" y="166.80" width="10.50" height="2.40" fill="#DE2410" stroke="none" stroke-width="0" />
<rect x="845.30" y="169.20" width="10.50" height="2.20" fill="#F6F3E6" stroke="none" stroke-width="0" />
<rect x="845.30" y="171.40" width="5.20" height="2.60" fill="#DE2410" stroke="none" stroke-width="0" />
<rect x="850.50" y="171.40" width="5.30" height="2.60" fill="#1E9650" stroke="none" stroke-width="0" />
<rect x="847.00" y="167.60" width="2.00" height="1.20" fill="#E89A1C" stroke="none" stroke-width="0" />
<path d="M846.9 168.8 L849.1 168.8 L849.1 170.6 Q848.0 171.8 846.9 170.6 Z" fill="#DE3A20" stroke="none" stroke-width="0" />
<rect x="852.00" y="167.60" width="2.00" height="1.20" fill="#E89A1C" stroke="none" stroke-width="0" />
<path d="M851.9 168.8 L854.1 168.8 L854.1 170.6 Q853.0 171.8 851.9 170.6 Z" fill="#DE3A20" stroke="none" stroke-width="0" />
<path d="M846.6 171.6 Q848 169.6 849.6 171.6 Z" fill="#DE2410" stroke="none" stroke-width="0" />
<path d="M851.4 171.6 Q853 169.6 854.6 171.6 Z" fill="#1E9650" stroke="none" stroke-width="0" />
</g>
<path d="M152.6 180.4 L154 184.5 L156.3 190.5" fill="none" stroke="#55575c" stroke-width="0.9" />
<path d="M155.4 188 L160.6 196.5" fill="none" stroke="#333" stroke-width="0.5" />
<path d="M154 184 L160.5 193" fill="none" stroke="#555" stroke-width="0.4" />
<g transform="rotate(-17 152.8 180.4)">
<path d="M142.0 180.6 Q145 179.8 147.4 180.6 Q150 181.4 152.8 180.5 L152.8 186.9 Q150 187.8 147.4 187 Q145 186.2 142.0 187 Z" fill="#E4240C" stroke="none" stroke-width="0" />
<path d="M145.6 183.0 Q148 183.4 152.8 182.9 L152.8 184.5 Q148 185 145.6 184.6 Z" fill="#F8F5EA" stroke="none" stroke-width="0" />
<path d="M143.6 182.6 L149.4 182.2 L149.6 183.0 L143.8 183.5 Z" fill="#EE8A14" stroke="none" stroke-width="0" />
</g>
</g>
<g id="plan">
<path d="M151.90 318.40 C152.17 318.03 152.57 316.93 153.50 316.20 C154.43 315.47 154.75 315.15 157.50 314.00 C160.25 312.85 163.75 311.33 170.00 309.30 C176.25 307.27 186.67 304.18 195.00 301.80 C203.33 299.42 212.50 296.95 220.00 295.00 C227.50 293.05 233.33 291.42 240.00 290.10 C246.67 288.78 250.42 288.53 260.00 287.10 C269.58 285.67 285.00 283.05 297.50 281.50 C310.00 279.95 322.50 278.83 335.00 277.80 C347.50 276.77 361.67 275.87 372.50 275.30 C383.33 274.73 388.75 274.65 400.00 274.40 C411.25 274.15 426.67 273.88 440.00 273.80 C453.33 273.72 466.67 273.78 480.00 273.90 C493.33 274.02 506.67 274.15 520.00 274.50 C533.33 274.85 546.67 275.25 560.00 276.00 C573.33 276.75 590.00 278.18 600.00 279.00 C610.00 279.82 610.00 279.78 620.00 280.90 C630.00 282.02 646.67 284.08 660.00 285.70 C673.33 287.32 688.50 289.02 700.00 290.60 C711.50 292.18 722.33 294.07 729.00 295.20 C735.67 296.33 736.50 296.85 740.00 297.40 C743.50 297.95 745.00 297.95 750.00 298.50 C755.00 299.05 763.33 299.67 770.00 300.70 C776.67 301.73 782.50 303.27 790.00 304.70 C797.50 306.13 806.67 307.60 815.00 309.30 C823.33 311.00 832.90 313.38 840.00 314.90 C847.10 316.42 854.67 317.82 857.60 318.40 L857.60 318.40 C854.67 318.98 847.10 320.38 840.00 321.90 C832.90 323.42 823.33 325.80 815.00 327.50 C806.67 329.20 797.50 330.67 790.00 332.10 C782.50 333.53 776.67 335.07 770.00 336.10 C763.33 337.13 755.00 337.75 750.00 338.30 C745.00 338.85 743.50 338.85 740.00 339.40 C736.50 339.95 735.67 340.47 729.00 341.60 C722.33 342.73 711.50 344.62 700.00 346.20 C688.50 347.78 673.33 349.48 660.00 351.10 C646.67 352.72 630.00 354.78 620.00 355.90 C610.00 357.02 610.00 356.98 600.00 357.80 C590.00 358.62 573.33 360.05 560.00 360.80 C546.67 361.55 533.33 361.95 520.00 362.30 C506.67 362.65 493.33 362.78 480.00 362.90 C466.67 363.02 453.33 363.08 440.00 363.00 C426.67 362.92 411.25 362.65 400.00 362.40 C388.75 362.15 383.33 362.07 372.50 361.50 C361.67 360.93 347.50 360.03 335.00 359.00 C322.50 357.97 310.00 356.85 297.50 355.30 C285.00 353.75 269.58 351.13 260.00 349.70 C250.42 348.27 246.67 348.02 240.00 346.70 C233.33 345.38 227.50 343.75 220.00 341.80 C212.50 339.85 203.33 337.38 195.00 335.00 C186.67 332.62 176.25 329.53 170.00 327.50 C163.75 325.47 160.25 323.95 157.50 322.80 C154.75 321.65 154.43 321.33 153.50 320.60 C152.57 319.87 152.17 318.77 151.90 318.40 Z" fill="url(#deck)" stroke="none" stroke-width="0" />
<g clip-path="url(#hullclip)">
<line x1="170.90" y1="267.71" x2="170.90" y2="368" stroke="#7A5022" stroke-width="0.85" stroke-dasharray="1.5 1.44" stroke-opacity="0.85"/>
<line x1="185.41" y1="267.71" x2="185.41" y2="368" stroke="#7A5022" stroke-width="0.85" stroke-dasharray="1.5 1.44" stroke-opacity="0.85"/>
<line x1="199.92" y1="267.71" x2="199.92" y2="368" stroke="#7A5022" stroke-width="0.85" stroke-dasharray="1.5 1.44" stroke-opacity="0.85"/>
<line x1="214.43" y1="267.71" x2="214.43" y2="368" stroke="#7A5022" stroke-width="0.85" stroke-dasharray="1.5 1.44" stroke-opacity="0.85"/>
<line x1="228.94" y1="267.71" x2="228.94" y2="368" stroke="#7A5022" stroke-width="0.85" stroke-dasharray="1.5 1.44" stroke-opacity="0.85"/>
<line x1="243.45" y1="267.71" x2="243.45" y2="368" stroke="#7A5022" stroke-width="0.85" stroke-dasharray="1.5 1.44" stroke-opacity="0.85"/>
<line x1="257.96" y1="267.71" x2="257.96" y2="368" stroke="#7A5022" stroke-width="0.85" stroke-dasharray="1.5 1.44" stroke-opacity="0.85"/>
<line x1="272.47" y1="267.71" x2="272.47" y2="368" stroke="#7A5022" stroke-width="0.85" stroke-dasharray="1.5 1.44" stroke-opacity="0.85"/>
<line x1="292.48" y1="267.71" x2="292.48" y2="368" stroke="#7A5022" stroke-width="0.85" stroke-dasharray="1.5 1.44" stroke-opacity="0.85"/>
<line x1="307.00" y1="267.71" x2="307.00" y2="368" stroke="#7A5022" stroke-width="0.85" stroke-dasharray="1.5 1.44" stroke-opacity="0.85"/>
<line x1="321.52" y1="267.71" x2="321.52" y2="368" stroke="#7A5022" stroke-width="0.85" stroke-dasharray="1.5 1.44" stroke-opacity="0.85"/>
<line x1="336.04" y1="267.71" x2="336.04" y2="368" stroke="#7A5022" stroke-width="0.85" stroke-dasharray="1.5 1.44" stroke-opacity="0.85"/>
<line x1="350.56" y1="267.71" x2="350.56" y2="368" stroke="#7A5022" stroke-width="0.85" stroke-dasharray="1.5 1.44" stroke-opacity="0.85"/>
<line x1="365.08" y1="267.71" x2="365.08" y2="368" stroke="#7A5022" stroke-width="0.85" stroke-dasharray="1.5 1.44" stroke-opacity="0.85"/>
<line x1="379.60" y1="267.71" x2="379.60" y2="368" stroke="#7A5022" stroke-width="0.85" stroke-dasharray="1.5 1.44" stroke-opacity="0.85"/>
<line x1="394.12" y1="267.71" x2="394.12" y2="368" stroke="#7A5022" stroke-width="0.85" stroke-dasharray="1.5 1.44" stroke-opacity="0.85"/>
<line x1="408.64" y1="267.71" x2="408.64" y2="368" stroke="#7A5022" stroke-width="0.85" stroke-dasharray="1.5 1.44" stroke-opacity="0.85"/>
<line x1="423.16" y1="267.71" x2="423.16" y2="368" stroke="#7A5022" stroke-width="0.85" stroke-dasharray="1.5 1.44" stroke-opacity="0.85"/>
<line x1="437.68" y1="267.71" x2="437.68" y2="368" stroke="#7A5022" stroke-width="0.85" stroke-dasharray="1.5 1.44" stroke-opacity="0.85"/>
<line x1="452.20" y1="267.71" x2="452.20" y2="368" stroke="#7A5022" stroke-width="0.85" stroke-dasharray="1.5 1.44" stroke-opacity="0.85"/>
<line x1="466.72" y1="267.71" x2="466.72" y2="368" stroke="#7A5022" stroke-width="0.85" stroke-dasharray="1.5 1.44" stroke-opacity="0.85"/>
<line x1="481.24" y1="267.71" x2="481.24" y2="368" stroke="#7A5022" stroke-width="0.85" stroke-dasharray="1.5 1.44" stroke-opacity="0.85"/>
<line x1="495.76" y1="267.71" x2="495.76" y2="368" stroke="#7A5022" stroke-width="0.85" stroke-dasharray="1.5 1.44" stroke-opacity="0.85"/>
<line x1="510.28" y1="267.71" x2="510.28" y2="368" stroke="#7A5022" stroke-width="0.85" stroke-dasharray="1.5 1.44" stroke-opacity="0.85"/>
<line x1="524.80" y1="267.71" x2="524.80" y2="368" stroke="#7A5022" stroke-width="0.85" stroke-dasharray="1.5 1.44" stroke-opacity="0.85"/>
<line x1="539.32" y1="267.71" x2="539.32" y2="368" stroke="#7A5022" stroke-width="0.85" stroke-dasharray="1.5 1.44" stroke-opacity="0.85"/>
<line x1="553.84" y1="267.71" x2="553.84" y2="368" stroke="#7A5022" stroke-width="0.85" stroke-dasharray="1.5 1.44" stroke-opacity="0.85"/>
<line x1="568.36" y1="267.71" x2="568.36" y2="368" stroke="#7A5022" stroke-width="0.85" stroke-dasharray="1.5 1.44" stroke-opacity="0.85"/>
<line x1="582.88" y1="267.71" x2="582.88" y2="368" stroke="#7A5022" stroke-width="0.85" stroke-dasharray="1.5 1.44" stroke-opacity="0.85"/>
<line x1="597.40" y1="267.71" x2="597.40" y2="368" stroke="#7A5022" stroke-width="0.85" stroke-dasharray="1.5 1.44" stroke-opacity="0.85"/>
<line x1="611.92" y1="267.71" x2="611.92" y2="368" stroke="#7A5022" stroke-width="0.85" stroke-dasharray="1.5 1.44" stroke-opacity="0.85"/>
<line x1="626.44" y1="267.71" x2="626.44" y2="368" stroke="#7A5022" stroke-width="0.85" stroke-dasharray="1.5 1.44" stroke-opacity="0.85"/>
<line x1="640.96" y1="267.71" x2="640.96" y2="368" stroke="#7A5022" stroke-width="0.85" stroke-dasharray="1.5 1.44" stroke-opacity="0.85"/>
<line x1="655.48" y1="267.71" x2="655.48" y2="368" stroke="#7A5022" stroke-width="0.85" stroke-dasharray="1.5 1.44" stroke-opacity="0.85"/>
<line x1="670.00" y1="267.71" x2="670.00" y2="368" stroke="#7A5022" stroke-width="0.85" stroke-dasharray="1.5 1.44" stroke-opacity="0.85"/>
<line x1="684.52" y1="267.71" x2="684.52" y2="368" stroke="#7A5022" stroke-width="0.85" stroke-dasharray="1.5 1.44" stroke-opacity="0.85"/>
<line x1="699.04" y1="267.71" x2="699.04" y2="368" stroke="#7A5022" stroke-width="0.85" stroke-dasharray="1.5 1.44" stroke-opacity="0.85"/>
<line x1="713.56" y1="267.71" x2="713.56" y2="368" stroke="#7A5022" stroke-width="0.85" stroke-dasharray="1.5 1.44" stroke-opacity="0.85"/>
<line x1="728.08" y1="267.71" x2="728.08" y2="368" stroke="#7A5022" stroke-width="0.85" stroke-dasharray="1.5 1.44" stroke-opacity="0.85"/>
<line x1="742.60" y1="267.71" x2="742.60" y2="368" stroke="#7A5022" stroke-width="0.85" stroke-dasharray="1.5 1.44" stroke-opacity="0.85"/>
<line x1="757.12" y1="267.71" x2="757.12" y2="368" stroke="#7A5022" stroke-width="0.85" stroke-dasharray="1.5 1.44" stroke-opacity="0.85"/>
<line x1="771.64" y1="267.71" x2="771.64" y2="368" stroke="#7A5022" stroke-width="0.85" stroke-dasharray="1.5 1.44" stroke-opacity="0.85"/>
<line x1="786.16" y1="267.71" x2="786.16" y2="368" stroke="#7A5022" stroke-width="0.85" stroke-dasharray="1.5 1.44" stroke-opacity="0.85"/>
<line x1="800.68" y1="267.71" x2="800.68" y2="368" stroke="#7A5022" stroke-width="0.85" stroke-dasharray="1.5 1.44" stroke-opacity="0.85"/>
<line x1="815.20" y1="267.71" x2="815.20" y2="368" stroke="#7A5022" stroke-width="0.85" stroke-dasharray="1.5 1.44" stroke-opacity="0.85"/>
</g>
<path d="M813.8 309.07919999999996 L857.6 318.4 L813.8 327.7208 Z" fill="#E6E4DA" stroke="#55565C" stroke-width="0.5" />
<path d="M151.90 318.40 C152.17 318.03 152.57 316.93 153.50 316.20 C154.43 315.47 154.75 315.15 157.50 314.00 C160.25 312.85 163.75 311.33 170.00 309.30 C176.25 307.27 186.67 304.18 195.00 301.80 C203.33 299.42 212.50 296.95 220.00 295.00 C227.50 293.05 233.33 291.42 240.00 290.10 C246.67 288.78 250.42 288.53 260.00 287.10 C269.58 285.67 285.00 283.05 297.50 281.50 C310.00 279.95 322.50 278.83 335.00 277.80 C347.50 276.77 361.67 275.87 372.50 275.30 C383.33 274.73 388.75 274.65 400.00 274.40 C411.25 274.15 426.67 273.88 440.00 273.80 C453.33 273.72 466.67 273.78 480.00 273.90 C493.33 274.02 506.67 274.15 520.00 274.50 C533.33 274.85 546.67 275.25 560.00 276.00 C573.33 276.75 590.00 278.18 600.00 279.00 C610.00 279.82 610.00 279.78 620.00 280.90 C630.00 282.02 646.67 284.08 660.00 285.70 C673.33 287.32 688.50 289.02 700.00 290.60 C711.50 292.18 722.33 294.07 729.00 295.20 C735.67 296.33 736.50 296.85 740.00 297.40 C743.50 297.95 745.00 297.95 750.00 298.50 C755.00 299.05 763.33 299.67 770.00 300.70 C776.67 301.73 782.50 303.27 790.00 304.70 C797.50 306.13 806.67 307.60 815.00 309.30 C823.33 311.00 832.90 313.38 840.00 314.90 C847.10 316.42 854.67 317.82 857.60 318.40" fill="none" stroke="#3c3c40" stroke-width="1.25" />
<path d="M857.60 318.40 C854.67 318.98 847.10 320.38 840.00 321.90 C832.90 323.42 823.33 325.80 815.00 327.50 C806.67 329.20 797.50 330.67 790.00 332.10 C782.50 333.53 776.67 335.07 770.00 336.10 C763.33 337.13 755.00 337.75 750.00 338.30 C745.00 338.85 743.50 338.85 740.00 339.40 C736.50 339.95 735.67 340.47 729.00 341.60 C722.33 342.73 711.50 344.62 700.00 346.20 C688.50 347.78 673.33 349.48 660.00 351.10 C646.67 352.72 630.00 354.78 620.00 355.90 C610.00 357.02 610.00 356.98 600.00 357.80 C590.00 358.62 573.33 360.05 560.00 360.80 C546.67 361.55 533.33 361.95 520.00 362.30 C506.67 362.65 493.33 362.78 480.00 362.90 C466.67 363.02 453.33 363.08 440.00 363.00 C426.67 362.92 411.25 362.65 400.00 362.40 C388.75 362.15 383.33 362.07 372.50 361.50 C361.67 360.93 347.50 360.03 335.00 359.00 C322.50 357.97 310.00 356.85 297.50 355.30 C285.00 353.75 269.58 351.13 260.00 349.70 C250.42 348.27 246.67 348.02 240.00 346.70 C233.33 345.38 227.50 343.75 220.00 341.80 C212.50 339.85 203.33 337.38 195.00 335.00 C186.67 332.62 176.25 329.53 170.00 327.50 C163.75 325.47 160.25 323.95 157.50 322.80 C154.75 321.65 154.43 321.33 153.50 320.60 C152.57 319.87 152.17 318.77 151.90 318.40" fill="none" stroke="#3c3c40" stroke-width="1.25" />
<path d="M425.2 264.96999999999997 Q426.2 263.995 429.2 263.8 L444 263.8 Q449 264.58 453 267.7 Q449 270.82 444 271.59999999999997 L429.2 271.59999999999997 Q426.2 271.405 425.2 270.43 Z" fill="#261a0e" stroke="#120c06" stroke-width="0.6" />
<line x1="429.20" y1="264.70" x2="429.20" y2="270.70" stroke="#54391a" stroke-width="0.9" />
<line x1="431.40" y1="264.70" x2="431.40" y2="270.70" stroke="#54391a" stroke-width="0.9" />
<line x1="433.60" y1="264.70" x2="433.60" y2="270.70" stroke="#54391a" stroke-width="0.9" />
<line x1="435.80" y1="264.70" x2="435.80" y2="270.70" stroke="#54391a" stroke-width="0.9" />
<line x1="438.00" y1="264.70" x2="438.00" y2="270.70" stroke="#54391a" stroke-width="0.9" />
<line x1="440.20" y1="264.70" x2="440.20" y2="270.70" stroke="#54391a" stroke-width="0.9" />
<line x1="442.40" y1="264.70" x2="442.40" y2="270.70" stroke="#54391a" stroke-width="0.9" />
<line x1="444.60" y1="264.70" x2="444.60" y2="270.70" stroke="#54391a" stroke-width="0.9" />
<rect x="425.20" y="265.50" width="2.00" height="4.40" fill="#C6CAD2" stroke="#333" stroke-width="0.4" />
<path d="M425.2 367.27 Q426.2 366.295 429.2 366.1 L444 366.1 Q449 366.88 453 370.0 Q449 373.12 444 373.9 L429.2 373.9 Q426.2 373.705 425.2 372.73 Z" fill="#261a0e" stroke="#120c06" stroke-width="0.6" />
<line x1="429.20" y1="367.00" x2="429.20" y2="373.00" stroke="#54391a" stroke-width="0.9" />
<line x1="431.40" y1="367.00" x2="431.40" y2="373.00" stroke="#54391a" stroke-width="0.9" />
<line x1="433.60" y1="367.00" x2="433.60" y2="373.00" stroke="#54391a" stroke-width="0.9" />
<line x1="435.80" y1="367.00" x2="435.80" y2="373.00" stroke="#54391a" stroke-width="0.9" />
<line x1="438.00" y1="367.00" x2="438.00" y2="373.00" stroke="#54391a" stroke-width="0.9" />
<line x1="440.20" y1="367.00" x2="440.20" y2="373.00" stroke="#54391a" stroke-width="0.9" />
<line x1="442.40" y1="367.00" x2="442.40" y2="373.00" stroke="#54391a" stroke-width="0.9" />
<line x1="444.60" y1="367.00" x2="444.60" y2="373.00" stroke="#54391a" stroke-width="0.9" />
<rect x="425.20" y="367.80" width="2.00" height="4.40" fill="#C6CAD2" stroke="#333" stroke-width="0.4" />
<line x1="427.50" y1="273.60" x2="426.50" y2="271.20" stroke="#333" stroke-width="0.5" />
<line x1="449.00" y1="273.60" x2="450.00" y2="271.00" stroke="#333" stroke-width="0.5" />
<line x1="438.00" y1="273.40" x2="438.00" y2="271.30" stroke="#333" stroke-width="0.5" />
<line x1="427.50" y1="363.20" x2="426.50" y2="366.50" stroke="#333" stroke-width="0.5" />
<line x1="449.00" y1="363.20" x2="450.00" y2="366.70" stroke="#333" stroke-width="0.5" />
<line x1="438.00" y1="363.40" x2="438.00" y2="366.40" stroke="#333" stroke-width="0.5" />
<g transform="translate(0 0) scale(1 1)">
<g transform="rotate(-17.5 181 301.5)">
<path d="M167.6 299.96 Q168.6 299.15999999999997 171.6 299.0 L187.3 299.0 Q192.3 299.64 196.3 302.2 Q192.3 304.76 187.3 305.4 L171.6 305.4 Q168.6 305.24 167.6 304.44 Z" fill="#2a1e10" stroke="#120c06" stroke-width="0.6" />
<line x1="171.60" y1="299.90" x2="171.60" y2="304.50" stroke="#54391a" stroke-width="0.9" />
<line x1="173.80" y1="299.90" x2="173.80" y2="304.50" stroke="#54391a" stroke-width="0.9" />
<line x1="176.00" y1="299.90" x2="176.00" y2="304.50" stroke="#54391a" stroke-width="0.9" />
<line x1="178.20" y1="299.90" x2="178.20" y2="304.50" stroke="#54391a" stroke-width="0.9" />
<line x1="180.40" y1="299.90" x2="180.40" y2="304.50" stroke="#54391a" stroke-width="0.9" />
<line x1="182.60" y1="299.90" x2="182.60" y2="304.50" stroke="#54391a" stroke-width="0.9" />
<line x1="184.80" y1="299.90" x2="184.80" y2="304.50" stroke="#54391a" stroke-width="0.9" />
<line x1="187.00" y1="299.90" x2="187.00" y2="304.50" stroke="#54391a" stroke-width="0.9" />
<line x1="189.20" y1="299.90" x2="189.20" y2="304.50" stroke="#54391a" stroke-width="0.9" />
<rect x="168.20" y="300.40" width="2.00" height="3.60" fill="#9a9ea8" stroke="#333" stroke-width="0.4" />
</g>
<g transform="rotate(5 738 295)">
<path d="M729.5 293.32 Q730.5 292.72 733.5 292.6 L737.5 292.6 Q742.5 293.08 746.5 295.0 Q742.5 296.92 737.5 297.4 L733.5 297.4 Q730.5 297.28 729.5 296.68 Z" fill="#261a0e" stroke="#120c06" stroke-width="0.6" />
<line x1="733.50" y1="293.50" x2="733.50" y2="296.50" stroke="#54391a" stroke-width="0.9" />
<line x1="735.70" y1="293.50" x2="735.70" y2="296.50" stroke="#54391a" stroke-width="0.9" />
<line x1="737.90" y1="293.50" x2="737.90" y2="296.50" stroke="#54391a" stroke-width="0.9" />
</g>
</g>
<g transform="translate(0 636.8) scale(1 -1)">
<g transform="rotate(-17.5 181 301.5)">
<path d="M167.6 299.96 Q168.6 299.15999999999997 171.6 299.0 L187.3 299.0 Q192.3 299.64 196.3 302.2 Q192.3 304.76 187.3 305.4 L171.6 305.4 Q168.6 305.24 167.6 304.44 Z" fill="#2a1e10" stroke="#120c06" stroke-width="0.6" />
<line x1="171.60" y1="299.90" x2="171.60" y2="304.50" stroke="#54391a" stroke-width="0.9" />
<line x1="173.80" y1="299.90" x2="173.80" y2="304.50" stroke="#54391a" stroke-width="0.9" />
<line x1="176.00" y1="299.90" x2="176.00" y2="304.50" stroke="#54391a" stroke-width="0.9" />
<line x1="178.20" y1="299.90" x2="178.20" y2="304.50" stroke="#54391a" stroke-width="0.9" />
<line x1="180.40" y1="299.90" x2="180.40" y2="304.50" stroke="#54391a" stroke-width="0.9" />
<line x1="182.60" y1="299.90" x2="182.60" y2="304.50" stroke="#54391a" stroke-width="0.9" />
<line x1="184.80" y1="299.90" x2="184.80" y2="304.50" stroke="#54391a" stroke-width="0.9" />
<line x1="187.00" y1="299.90" x2="187.00" y2="304.50" stroke="#54391a" stroke-width="0.9" />
<line x1="189.20" y1="299.90" x2="189.20" y2="304.50" stroke="#54391a" stroke-width="0.9" />
<rect x="168.20" y="300.40" width="2.00" height="3.60" fill="#9a9ea8" stroke="#333" stroke-width="0.4" />
</g>
<g transform="rotate(5 738 295)">
<path d="M729.5 293.32 Q730.5 292.72 733.5 292.6 L737.5 292.6 Q742.5 293.08 746.5 295.0 Q742.5 296.92 737.5 297.4 L733.5 297.4 Q730.5 297.28 729.5 296.68 Z" fill="#261a0e" stroke="#120c06" stroke-width="0.6" />
<line x1="733.50" y1="293.50" x2="733.50" y2="296.50" stroke="#54391a" stroke-width="0.9" />
<line x1="735.70" y1="293.50" x2="735.70" y2="296.50" stroke="#54391a" stroke-width="0.9" />
<line x1="737.90" y1="293.50" x2="737.90" y2="296.50" stroke="#54391a" stroke-width="0.9" />
</g>
</g>
<line x1="283.80" y1="292.00" x2="270.00" y2="292.00" stroke="#2c2d30" stroke-width="1.25" stroke-linecap="round"/>
<line x1="283.80" y1="344.80" x2="270.00" y2="344.80" stroke="#2c2d30" stroke-width="1.25" stroke-linecap="round"/>
<line x1="308.80" y1="283.90" x2="298.00" y2="278.90" stroke="#2c2d30" stroke-width="1.25" stroke-linecap="round"/>
<line x1="308.80" y1="352.90" x2="298.00" y2="357.90" stroke="#2c2d30" stroke-width="1.25" stroke-linecap="round"/>
<line x1="333.80" y1="278.30" x2="324.40" y2="273.90" stroke="#2c2d30" stroke-width="1.25" stroke-linecap="round"/>
<line x1="333.80" y1="358.50" x2="324.40" y2="362.90" stroke="#2c2d30" stroke-width="1.25" stroke-linecap="round"/>
<line x1="370.00" y1="275.10" x2="363.80" y2="270.00" stroke="#2c2d30" stroke-width="1.25" stroke-linecap="round"/>
<line x1="370.00" y1="361.70" x2="363.80" y2="366.80" stroke="#2c2d30" stroke-width="1.25" stroke-linecap="round"/>
<line x1="391.30" y1="274.50" x2="385.00" y2="269.20" stroke="#2c2d30" stroke-width="1.25" stroke-linecap="round"/>
<line x1="391.30" y1="362.30" x2="385.00" y2="367.60" stroke="#2c2d30" stroke-width="1.25" stroke-linecap="round"/>
<line x1="413.00" y1="274.30" x2="406.30" y2="268.20" stroke="#2c2d30" stroke-width="1.25" stroke-linecap="round"/>
<line x1="413.00" y1="362.50" x2="406.30" y2="368.60" stroke="#2c2d30" stroke-width="1.25" stroke-linecap="round"/>
<line x1="463.80" y1="273.90" x2="455.00" y2="264.50" stroke="#2c2d30" stroke-width="1.25" stroke-linecap="round"/>
<line x1="463.80" y1="362.90" x2="455.00" y2="372.30" stroke="#2c2d30" stroke-width="1.25" stroke-linecap="round"/>
<line x1="503.80" y1="273.30" x2="512.00" y2="265.00" stroke="#2c2d30" stroke-width="1.25" stroke-linecap="round"/>
<line x1="503.80" y1="363.50" x2="512.00" y2="371.80" stroke="#2c2d30" stroke-width="1.25" stroke-linecap="round"/>
<line x1="533.80" y1="273.90" x2="542.00" y2="265.80" stroke="#2c2d30" stroke-width="1.25" stroke-linecap="round"/>
<line x1="533.80" y1="362.90" x2="542.00" y2="371.00" stroke="#2c2d30" stroke-width="1.25" stroke-linecap="round"/>
<line x1="578.80" y1="277.00" x2="585.00" y2="271.40" stroke="#2c2d30" stroke-width="1.25" stroke-linecap="round"/>
<line x1="578.80" y1="359.80" x2="585.00" y2="365.40" stroke="#2c2d30" stroke-width="1.25" stroke-linecap="round"/>
<line x1="600.60" y1="278.90" x2="607.00" y2="273.20" stroke="#2c2d30" stroke-width="1.25" stroke-linecap="round"/>
<line x1="600.60" y1="357.90" x2="607.00" y2="363.60" stroke="#2c2d30" stroke-width="1.25" stroke-linecap="round"/>
<line x1="623.00" y1="281.40" x2="629.40" y2="275.00" stroke="#2c2d30" stroke-width="1.25" stroke-linecap="round"/>
<line x1="623.00" y1="355.40" x2="629.40" y2="361.80" stroke="#2c2d30" stroke-width="1.25" stroke-linecap="round"/>
<line x1="650.60" y1="285.00" x2="660.00" y2="280.00" stroke="#2c2d30" stroke-width="1.25" stroke-linecap="round"/>
<line x1="650.60" y1="351.80" x2="660.00" y2="356.80" stroke="#2c2d30" stroke-width="1.25" stroke-linecap="round"/>
<line x1="673.00" y1="288.30" x2="683.80" y2="284.50" stroke="#2c2d30" stroke-width="1.25" stroke-linecap="round"/>
<line x1="673.00" y1="348.50" x2="683.80" y2="352.30" stroke="#2c2d30" stroke-width="1.25" stroke-linecap="round"/>
<path d="M152 318.4 q1 -3 4 -4 l1.2 1.5 q-2.5 1 -2.2 2.5 q-0.3 1.5 2.2 2.5 l-1.2 1.5 q-3 -1 -4 -4 Z" fill="#9a9ea8" stroke="#55565C" stroke-width="0.4" />
<g>
<path d="M363.5 276.13333333333327 L374.5 275.4181818181818 L371.4 277.7181818181818 L366.6 278.4333333333333 Z" fill="#E0E1E5" stroke="#4a4b50" stroke-width="0.6" />
<path d="M366 277.13333333333327 L372 276.4181818181818" fill="none" stroke="#8b8e96" stroke-width="0.7" />
<path d="M383.0 275.17272727272723 L395.5 274.73090909090905 L392.4 277.03090909090906 L386.1 277.47272727272724 Z" fill="#E0E1E5" stroke="#4a4b50" stroke-width="0.6" />
<path d="M385.5 276.17272727272723 L393 275.73090909090905" fill="none" stroke="#8b8e96" stroke-width="0.7" />
<path d="M405.5 274.525 L418.5 274.31499999999994 L415.4 276.61499999999995 L408.6 276.825 Z" fill="#E0E1E5" stroke="#4a4b50" stroke-width="0.6" />
<path d="M408 275.525 L416 275.31499999999994" fill="none" stroke="#8b8e96" stroke-width="0.7" />
<path d="M455.5 274.03749999999997 L473.5 274.085 L470.4 276.385 L458.6 276.3375 Z" fill="#E0E1E5" stroke="#4a4b50" stroke-width="0.6" />
<path d="M458 275.03749999999997 L471 275.085" fill="none" stroke="#8b8e96" stroke-width="0.7" />
<path d="M493.0 274.28749999999997 L510.5 274.565 L507.4 276.865 L496.1 276.5875 Z" fill="#E0E1E5" stroke="#4a4b50" stroke-width="0.6" />
<path d="M495.5 275.28749999999997 L508 275.565" fill="none" stroke="#8b8e96" stroke-width="0.7" />
<path d="M523.5 274.81249999999994 L540.5 275.48749999999995 L537.4 277.78749999999997 L526.6 277.11249999999995 Z" fill="#E0E1E5" stroke="#4a4b50" stroke-width="0.6" />
<path d="M526 275.81249999999994 L538 276.48749999999995" fill="none" stroke="#8b8e96" stroke-width="0.7" />
<path d="M573.5 277.17499999999995 L589.5 278.45 L586.4 280.75 L576.6 279.47499999999997 Z" fill="#E0E1E5" stroke="#4a4b50" stroke-width="0.6" />
<path d="M576 278.17499999999995 L587 279.45" fill="none" stroke="#8b8e96" stroke-width="0.7" />
<path d="M595.5 278.825 L607.5 279.96 L604.4 282.26 L598.6 281.125 Z" fill="#E0E1E5" stroke="#4a4b50" stroke-width="0.6" />
<path d="M598 279.825 L605 280.96" fill="none" stroke="#8b8e96" stroke-width="0.7" />
<path d="M617.0 280.7675 L629.5 282.29999999999995 L626.4 284.59999999999997 L620.1 283.0675 Z" fill="#E0E1E5" stroke="#4a4b50" stroke-width="0.6" />
<path d="M619.5 281.7675 L627 283.29999999999995" fill="none" stroke="#8b8e96" stroke-width="0.7" />
<rect x="479.50" y="274.23" width="6.50" height="1.50" fill="#55565C" stroke="#333" stroke-width="0.4" />
<path d="M277 318.5 L277 301 Q277.5 295 282.5 292.2 L291 287.6 L310 287.6 L318.8 282.8 L335 282.8 L343.8 277.8 L352 277.4" fill="none" stroke="#3f4046" stroke-width="1.0" />
<path d="M282.3 292.0 Q284.1 288.4 289.9 287.2 L290.9 288.8 Q287.5 291.7 283.9 293.0 Z" fill="#E2E3E6" stroke="#45464c" stroke-width="0.6" />
<path d="M310.3 287.0 Q312.1 283.4 317.9 282.2 L318.9 283.8 Q315.5 286.7 311.9 288.0 Z" fill="#E2E3E6" stroke="#45464c" stroke-width="0.6" />
<path d="M335.6 282.0 Q337.40000000000003 278.4 343.2 277.2 L344.2 278.8 Q340.8 281.7 337.2 283.0 Z" fill="#E2E3E6" stroke="#45464c" stroke-width="0.6" />
<line x1="271.00" y1="303.00" x2="277.00" y2="303.00" stroke="#4a4a4e" stroke-width="1.0" />
<rect x="327.50" y="281.00" width="5.50" height="1.60" fill="#7d8088" stroke="#333" stroke-width="0.4" />
<rect x="350.60" y="277.40" width="7.00" height="3.20" fill="#C6CAD2" stroke="#3C3C40" stroke-width="0.5" />
<line x1="352.50" y1="279.00" x2="355.50" y2="279.00" stroke="#3C3C40" stroke-width="0.6" />
<path d="M641 283.3 L649.4 288.6 L665 288.6 L673 294.3 L700 294.3 L708.8 298.3 L730 298.3" fill="none" stroke="#3f4046" stroke-width="1.0" />
<path d="M641.2 282.59999999999997 Q647.0 282.79999999999995 649.2 288.0 L645.9 288.4 Q643.8000000000001 285.2 640.4 284.0 Z" fill="#E2E3E6" stroke="#45464c" stroke-width="0.6" />
<path d="M664.8000000000001 288.2 Q670.6 288.4 672.8000000000001 293.6 L669.5 294.0 Q667.4000000000001 290.8 664.0 289.6 Z" fill="#E2E3E6" stroke="#45464c" stroke-width="0.6" />
<path d="M700.2 293.0 Q706.0 293.2 708.2 298.40000000000003 L704.9 298.8 Q702.8000000000001 295.6 699.4 294.40000000000003 Z" fill="#E2E3E6" stroke="#45464c" stroke-width="0.6" />
<rect x="686.50" y="293.80" width="6.50" height="1.60" fill="#7d8088" stroke="#333" stroke-width="0.4" />
<rect x="708.50" y="298.60" width="7.30" height="3.00" fill="#C6CAD2" stroke="#3C3C40" stroke-width="0.5" />
<line x1="710.50" y1="300.10" x2="714.00" y2="300.10" stroke="#3C3C40" stroke-width="0.6" />
<line x1="716.00" y1="299.20" x2="730.00" y2="299.20" stroke="#3C3C40" stroke-width="0.9" />
<rect x="724.30" y="300.40" width="1.90" height="1.60" fill="#6d7078" stroke="#444" stroke-width="0.3" />
<rect x="464.60" y="277.00" width="7.00" height="3.20" fill="#C6CAD2" stroke="#3C3C40" stroke-width="0.5" />
<line x1="466.40" y1="278.60" x2="469.80" y2="278.60" stroke="#3C3C40" stroke-width="0.6" />
<rect x="224.60" y="294.20" width="7.20" height="2.60" fill="#C6CAD2" stroke="#3C3C40" stroke-width="0.5" transform="rotate(-15 228 295.5)"/>
<rect x="195.00" y="308.80" width="3.80" height="4.70" rx="0.5" fill="#F2F1EA" stroke="#77797F" stroke-width="0.55"/>
<rect x="219.50" y="304.40" width="1.30" height="4.10" fill="#111" stroke="#111" stroke-width="0.2" />
<circle cx="238.80" cy="304.00" r="2.10" fill="#E8E8E4" stroke="#5a5b62" stroke-width="0.7" />
<circle cx="255.60" cy="304.00" r="2.10" fill="#E8E8E4" stroke="#5a5b62" stroke-width="0.7" />
<circle cx="245.00" cy="308.70" r="1.60" fill="#F2F1EA" stroke="#77797F" stroke-width="0.5" />
<rect x="251.90" y="315.00" width="4.40" height="2.70" rx="0.5" fill="#D8D9DC" stroke="#77797F" stroke-width="0.55"/>
<rect x="266.30" y="310.60" width="3.90" height="5.00" rx="0.5" fill="#F2F1EA" stroke="#77797F" stroke-width="0.55"/>
<rect x="282.30" y="313.00" width="4.20" height="3.90" rx="0.5" fill="#F2F1EA" stroke="#333" stroke-width="0.55"/>
<rect x="356.00" y="295.60" width="5.00" height="4.20" rx="0.5" fill="#D8D9DC" stroke="#77797F" stroke-width="0.55"/>
<circle cx="377.30" cy="298.00" r="1.20" fill="#E8E8E4" stroke="#444" stroke-width="0.6" />
<circle cx="377.30" cy="307.50" r="1.20" fill="#E8E8E4" stroke="#444" stroke-width="0.6" />
<rect x="381.30" y="296.40" width="26.20" height="13.60" fill="#6b6d72" stroke="#4a4a4e" stroke-width="0.5" />
<line x1="381.30" y1="299.80" x2="407.50" y2="299.80" stroke="#55565a" stroke-width="0.5" />
<line x1="381.30" y1="303.20" x2="407.50" y2="303.20" stroke="#55565a" stroke-width="0.5" />
<line x1="381.30" y1="306.60" x2="407.50" y2="306.60" stroke="#55565a" stroke-width="0.5" />
<line x1="384.58" y1="296.40" x2="384.58" y2="310.00" stroke="#595b60" stroke-width="0.4" />
<line x1="387.86" y1="296.40" x2="387.86" y2="310.00" stroke="#595b60" stroke-width="0.4" />
<line x1="391.14" y1="296.40" x2="391.14" y2="310.00" stroke="#595b60" stroke-width="0.4" />
<line x1="394.42" y1="296.40" x2="394.42" y2="310.00" stroke="#595b60" stroke-width="0.4" />
<line x1="397.70" y1="296.40" x2="397.70" y2="310.00" stroke="#595b60" stroke-width="0.4" />
<line x1="400.98" y1="296.40" x2="400.98" y2="310.00" stroke="#595b60" stroke-width="0.4" />
<line x1="404.26" y1="296.40" x2="404.26" y2="310.00" stroke="#595b60" stroke-width="0.4" />
<circle cx="411.30" cy="298.20" r="1.30" fill="#E8E8E4" stroke="#444" stroke-width="0.6" />
<circle cx="411.30" cy="307.60" r="1.30" fill="#E8E8E4" stroke="#444" stroke-width="0.6" />
<rect x="391.90" y="285.80" width="5.60" height="4.00" rx="0.5" fill="#D8D9DC" stroke="#77797F" stroke-width="0.55"/>
<rect x="477.50" y="311.20" width="3.80" height="3.20" rx="0.5" fill="#F2F1EA" stroke="#333" stroke-width="0.55"/>
<rect x="489.40" y="305.00" width="7.60" height="3.80" rx="0.5" fill="#F2F1EA" stroke="#333" stroke-width="0.55"/>
<rect x="509.80" y="291.50" width="5.80" height="4.10" rx="0.5" fill="#D8D9DC" stroke="#77797F" stroke-width="0.55"/>
<path d="M519.4 290.89 Q520.4 290.065 523.4 289.9 L538 289.9 Q543 290.56 547 293.2 Q543 295.84 538 296.5 L523.4 296.5 Q520.4 296.335 519.4 295.51 Z" fill="#261a0e" stroke="#120c06" stroke-width="0.6" />
<line x1="523.40" y1="290.80" x2="523.40" y2="295.60" stroke="#54391a" stroke-width="0.9" />
<line x1="525.60" y1="290.80" x2="525.60" y2="295.60" stroke="#54391a" stroke-width="0.9" />
<line x1="527.80" y1="290.80" x2="527.80" y2="295.60" stroke="#54391a" stroke-width="0.9" />
<line x1="530.00" y1="290.80" x2="530.00" y2="295.60" stroke="#54391a" stroke-width="0.9" />
<line x1="532.20" y1="290.80" x2="532.20" y2="295.60" stroke="#54391a" stroke-width="0.9" />
<line x1="534.40" y1="290.80" x2="534.40" y2="295.60" stroke="#54391a" stroke-width="0.9" />
<line x1="536.60" y1="290.80" x2="536.60" y2="295.60" stroke="#54391a" stroke-width="0.9" />
<line x1="538.80" y1="290.80" x2="538.80" y2="295.60" stroke="#54391a" stroke-width="0.9" />
<rect x="520.00" y="291.40" width="3.20" height="3.60" fill="#b9a070" stroke="#222" stroke-width="0.4" />
<line x1="503.00" y1="299.40" x2="527.60" y2="299.40" stroke="#8b8e96" stroke-width="1.0" />
<line x1="505.50" y1="298.60" x2="505.50" y2="301.00" stroke="#55565C" stroke-width="0.6" />
<line x1="516.00" y1="298.60" x2="516.00" y2="301.00" stroke="#55565C" stroke-width="0.6" />
<line x1="526.00" y1="298.60" x2="526.00" y2="301.00" stroke="#55565C" stroke-width="0.6" />
<path d="M503 302.48 Q504 301.58 507 301.4 L521.6 301.4 Q526.6 302.12 530.6 305 Q526.6 307.88 521.6 308.6 L507 308.6 Q504 308.42 503 307.52 Z" fill="#261a0e" stroke="#120c06" stroke-width="0.6" />
<line x1="507.00" y1="302.30" x2="507.00" y2="307.70" stroke="#54391a" stroke-width="0.9" />
<line x1="509.20" y1="302.30" x2="509.20" y2="307.70" stroke="#54391a" stroke-width="0.9" />
<line x1="511.40" y1="302.30" x2="511.40" y2="307.70" stroke="#54391a" stroke-width="0.9" />
<line x1="513.60" y1="302.30" x2="513.60" y2="307.70" stroke="#54391a" stroke-width="0.9" />
<line x1="515.80" y1="302.30" x2="515.80" y2="307.70" stroke="#54391a" stroke-width="0.9" />
<line x1="518.00" y1="302.30" x2="518.00" y2="307.70" stroke="#54391a" stroke-width="0.9" />
<line x1="520.20" y1="302.30" x2="520.20" y2="307.70" stroke="#54391a" stroke-width="0.9" />
<line x1="522.40" y1="302.30" x2="522.40" y2="307.70" stroke="#54391a" stroke-width="0.9" />
<rect x="503.60" y="303.00" width="2.40" height="4.00" fill="#C6CAD2" stroke="#222" stroke-width="0.4" />
<rect x="552.50" y="293.00" width="6.30" height="4.00" fill="#2b2c30" stroke="#222" stroke-width="0.4" />
<line x1="569.00" y1="300.80" x2="579.00" y2="300.80" stroke="#8b8e96" stroke-width="1.0" />
<circle cx="579.80" cy="300.60" r="4.40" fill="#C3C7CF" stroke="#3C3C40" stroke-width="0.7" />
<circle cx="579.40" cy="300.60" r="2.50" fill="#E8E9EC" stroke="#55565C" stroke-width="0.4" />
<path d="M580.5 297.8 Q583.6 300.6 580.5 303.4 Z" fill="#333" stroke="none" stroke-width="0" />
<circle cx="557.00" cy="281.60" r="5.60" fill="#9a9ea8" stroke="#3C3C40" stroke-width="0.7" />
<line x1="549.50" y1="281.60" x2="564.50" y2="281.60" stroke="#3C3C40" stroke-width="1.2" />
<circle cx="557.00" cy="281.60" r="2.00" fill="#F2F1EA" stroke="#333" stroke-width="0.6" />
<rect x="596.30" y="292.50" width="4.30" height="15.50" fill="#A4A8B1" stroke="#55565C" stroke-width="0.5" />
<line x1="608.00" y1="290.00" x2="608.00" y2="318.00" stroke="#4a4a4e" stroke-width="0.6" />
<line x1="611.30" y1="297.00" x2="611.30" y2="318.00" stroke="#7a5a30" stroke-width="0.5" stroke-dasharray="1.5 1"/>
<line x1="363.00" y1="290.00" x2="363.00" y2="318.00" stroke="#4a4a4e" stroke-width="0.7" />
<rect x="621.30" y="300.60" width="7.50" height="5.00" rx="0.5" fill="#D8D9DC" stroke="#55565C" stroke-width="0.55"/>
<rect x="638.80" y="305.00" width="7.50" height="4.40" rx="0.5" fill="#D8D9DC" stroke="#55565C" stroke-width="0.55"/>
<rect x="648.50" y="312.50" width="8.50" height="5.00" rx="0.5" fill="#D8D9DC" stroke="#55565C" stroke-width="0.55"/>
<rect x="702.00" y="311.20" width="4.00" height="3.20" rx="0.5" fill="#F2F1EA" stroke="#333" stroke-width="0.55"/>
<rect x="714.00" y="305.00" width="5.60" height="3.80" rx="0.5" fill="#F2F1EA" stroke="#333" stroke-width="0.55"/>
<rect x="736.80" y="309.50" width="1.40" height="4.10" fill="#111" stroke="#111" stroke-width="0.2" />
<rect x="741.30" y="306.30" width="4.30" height="4.30" rx="0.5" fill="#F2F1EA" stroke="#77797F" stroke-width="0.55"/>
<rect x="749.30" y="300.20" width="1.60" height="1.60" fill="#6d7078" stroke="#444" stroke-width="0.3" />
<path d="M757 305.2 L790 307.4 L814 310.0 L814 312.6 L790 311.2 L757 310.2 Z" fill="#3a3c42" stroke="#222326" stroke-width="0.4" />
<path d="M758 307.7 L790 309.3" fill="none" stroke="#C98F3E" stroke-width="0.5" stroke-dasharray="7 4"/>
<path d="M759 306.6 L788 308.4 L812 310.8" fill="none" stroke="#5f636b" stroke-width="0.8" stroke-dasharray="5 3"/>
<path d="M759 309.0 L788 310.2 L812 312.0" fill="none" stroke="#50545c" stroke-width="0.6" stroke-dasharray="4 4"/>
<path d="M772 312.4 L814 313.6 L814 315.7 L772 315.7 Z" fill="#3a3c42" stroke="#222326" stroke-width="0.4" />
<path d="M774 313.4 L812 314.4" fill="none" stroke="#5f636b" stroke-width="0.8" stroke-dasharray="5 3"/>
<rect x="751.90" y="304.60" width="5.90" height="7.20" fill="#3a3c42" stroke="#1c1d20" stroke-width="0.6" />
<circle cx="754.90" cy="308.20" r="1.10" fill="#C6CAD2" stroke="none" stroke-width="0" />
<circle cx="752.60" cy="305.30" r="0.45" fill="#D8D9DC" stroke="none" stroke-width="0" />
<circle cx="757.10" cy="305.30" r="0.45" fill="#D8D9DC" stroke="none" stroke-width="0" />
<circle cx="752.60" cy="311.10" r="0.45" fill="#D8D9DC" stroke="none" stroke-width="0" />
<circle cx="757.10" cy="311.10" r="0.45" fill="#D8D9DC" stroke="none" stroke-width="0" />
<rect x="766.90" y="311.50" width="5.90" height="6.60" fill="#3a3c42" stroke="#1c1d20" stroke-width="0.6" />
<circle cx="769.90" cy="314.60" r="1.10" fill="#C6CAD2" stroke="none" stroke-width="0" />
<circle cx="767.60" cy="312.20" r="0.45" fill="#D8D9DC" stroke="none" stroke-width="0" />
<circle cx="772.10" cy="312.20" r="0.45" fill="#D8D9DC" stroke="none" stroke-width="0" />
<circle cx="767.60" cy="317.40" r="0.45" fill="#D8D9DC" stroke="none" stroke-width="0" />
<circle cx="772.10" cy="317.40" r="0.45" fill="#D8D9DC" stroke="none" stroke-width="0" />
<path d="M762 309.6 l3.4 0 l0 1.8 l-3.4 0 Z M778 315.8 l3.6 0 l0 1.7 l-3.6 0 Z" fill="#1c1d20" stroke="none" stroke-width="0" />
<ellipse cx="817.30" cy="311.60" rx="2.20" ry="1.00" fill="#1c1c1e" stroke="none" stroke-width="0" />
<ellipse cx="832.00" cy="315.00" rx="1.80" ry="0.90" fill="#1c1c1e" stroke="none" stroke-width="0" />
<ellipse cx="843.80" cy="314.60" rx="2.40" ry="1.00" fill="#7d8088" stroke="#444" stroke-width="0.3" />
</g>
<g transform="translate(0 636.8) scale(1 -1)">
<path d="M363.5 276.13333333333327 L374.5 275.4181818181818 L371.4 277.7181818181818 L366.6 278.4333333333333 Z" fill="#E0E1E5" stroke="#4a4b50" stroke-width="0.6" />
<path d="M366 277.13333333333327 L372 276.4181818181818" fill="none" stroke="#8b8e96" stroke-width="0.7" />
<path d="M383.0 275.17272727272723 L395.5 274.73090909090905 L392.4 277.03090909090906 L386.1 277.47272727272724 Z" fill="#E0E1E5" stroke="#4a4b50" stroke-width="0.6" />
<path d="M385.5 276.17272727272723 L393 275.73090909090905" fill="none" stroke="#8b8e96" stroke-width="0.7" />
<path d="M405.5 274.525 L418.5 274.31499999999994 L415.4 276.61499999999995 L408.6 276.825 Z" fill="#E0E1E5" stroke="#4a4b50" stroke-width="0.6" />
<path d="M408 275.525 L416 275.31499999999994" fill="none" stroke="#8b8e96" stroke-width="0.7" />
<path d="M455.5 274.03749999999997 L473.5 274.085 L470.4 276.385 L458.6 276.3375 Z" fill="#E0E1E5" stroke="#4a4b50" stroke-width="0.6" />
<path d="M458 275.03749999999997 L471 275.085" fill="none" stroke="#8b8e96" stroke-width="0.7" />
<path d="M493.0 274.28749999999997 L510.5 274.565 L507.4 276.865 L496.1 276.5875 Z" fill="#E0E1E5" stroke="#4a4b50" stroke-width="0.6" />
<path d="M495.5 275.28749999999997 L508 275.565" fill="none" stroke="#8b8e96" stroke-width="0.7" />
<path d="M523.5 274.81249999999994 L540.5 275.48749999999995 L537.4 277.78749999999997 L526.6 277.11249999999995 Z" fill="#E0E1E5" stroke="#4a4b50" stroke-width="0.6" />
<path d="M526 275.81249999999994 L538 276.48749999999995" fill="none" stroke="#8b8e96" stroke-width="0.7" />
<path d="M573.5 277.17499999999995 L589.5 278.45 L586.4 280.75 L576.6 279.47499999999997 Z" fill="#E0E1E5" stroke="#4a4b50" stroke-width="0.6" />
<path d="M576 278.17499999999995 L587 279.45" fill="none" stroke="#8b8e96" stroke-width="0.7" />
<path d="M595.5 278.825 L607.5 279.96 L604.4 282.26 L598.6 281.125 Z" fill="#E0E1E5" stroke="#4a4b50" stroke-width="0.6" />
<path d="M598 279.825 L605 280.96" fill="none" stroke="#8b8e96" stroke-width="0.7" />
<path d="M617.0 280.7675 L629.5 282.29999999999995 L626.4 284.59999999999997 L620.1 283.0675 Z" fill="#E0E1E5" stroke="#4a4b50" stroke-width="0.6" />
<path d="M619.5 281.7675 L627 283.29999999999995" fill="none" stroke="#8b8e96" stroke-width="0.7" />
<rect x="479.50" y="274.23" width="6.50" height="1.50" fill="#55565C" stroke="#333" stroke-width="0.4" />
<path d="M277 318.5 L277 301 Q277.5 295 282.5 292.2 L291 287.6 L310 287.6 L318.8 282.8 L335 282.8 L343.8 277.8 L352 277.4" fill="none" stroke="#3f4046" stroke-width="1.0" />
<path d="M282.3 292.0 Q284.1 288.4 289.9 287.2 L290.9 288.8 Q287.5 291.7 283.9 293.0 Z" fill="#E2E3E6" stroke="#45464c" stroke-width="0.6" />
<path d="M310.3 287.0 Q312.1 283.4 317.9 282.2 L318.9 283.8 Q315.5 286.7 311.9 288.0 Z" fill="#E2E3E6" stroke="#45464c" stroke-width="0.6" />
<path d="M335.6 282.0 Q337.40000000000003 278.4 343.2 277.2 L344.2 278.8 Q340.8 281.7 337.2 283.0 Z" fill="#E2E3E6" stroke="#45464c" stroke-width="0.6" />
<line x1="271.00" y1="303.00" x2="277.00" y2="303.00" stroke="#4a4a4e" stroke-width="1.0" />
<rect x="327.50" y="281.00" width="5.50" height="1.60" fill="#7d8088" stroke="#333" stroke-width="0.4" />
<rect x="350.60" y="277.40" width="7.00" height="3.20" fill="#C6CAD2" stroke="#3C3C40" stroke-width="0.5" />
<line x1="352.50" y1="279.00" x2="355.50" y2="279.00" stroke="#3C3C40" stroke-width="0.6" />
<path d="M641 283.3 L649.4 288.6 L665 288.6 L673 294.3 L700 294.3 L708.8 298.3 L730 298.3" fill="none" stroke="#3f4046" stroke-width="1.0" />
<path d="M641.2 282.59999999999997 Q647.0 282.79999999999995 649.2 288.0 L645.9 288.4 Q643.8000000000001 285.2 640.4 284.0 Z" fill="#E2E3E6" stroke="#45464c" stroke-width="0.6" />
<path d="M664.8000000000001 288.2 Q670.6 288.4 672.8000000000001 293.6 L669.5 294.0 Q667.4000000000001 290.8 664.0 289.6 Z" fill="#E2E3E6" stroke="#45464c" stroke-width="0.6" />
<path d="M700.2 293.0 Q706.0 293.2 708.2 298.40000000000003 L704.9 298.8 Q702.8000000000001 295.6 699.4 294.40000000000003 Z" fill="#E2E3E6" stroke="#45464c" stroke-width="0.6" />
<rect x="686.50" y="293.80" width="6.50" height="1.60" fill="#7d8088" stroke="#333" stroke-width="0.4" />
<rect x="708.50" y="298.60" width="7.30" height="3.00" fill="#C6CAD2" stroke="#3C3C40" stroke-width="0.5" />
<line x1="710.50" y1="300.10" x2="714.00" y2="300.10" stroke="#3C3C40" stroke-width="0.6" />
<line x1="716.00" y1="299.20" x2="730.00" y2="299.20" stroke="#3C3C40" stroke-width="0.9" />
<rect x="724.30" y="300.40" width="1.90" height="1.60" fill="#6d7078" stroke="#444" stroke-width="0.3" />
<rect x="464.60" y="277.00" width="7.00" height="3.20" fill="#C6CAD2" stroke="#3C3C40" stroke-width="0.5" />
<line x1="466.40" y1="278.60" x2="469.80" y2="278.60" stroke="#3C3C40" stroke-width="0.6" />
<rect x="224.60" y="294.20" width="7.20" height="2.60" fill="#C6CAD2" stroke="#3C3C40" stroke-width="0.5" transform="rotate(-15 228 295.5)"/>
<rect x="195.00" y="308.80" width="3.80" height="4.70" rx="0.5" fill="#F2F1EA" stroke="#77797F" stroke-width="0.55"/>
<rect x="219.50" y="304.40" width="1.30" height="4.10" fill="#111" stroke="#111" stroke-width="0.2" />
<circle cx="238.80" cy="304.00" r="2.10" fill="#E8E8E4" stroke="#5a5b62" stroke-width="0.7" />
<circle cx="255.60" cy="304.00" r="2.10" fill="#E8E8E4" stroke="#5a5b62" stroke-width="0.7" />
<circle cx="245.00" cy="308.70" r="1.60" fill="#F2F1EA" stroke="#77797F" stroke-width="0.5" />
<rect x="251.90" y="315.00" width="4.40" height="2.70" rx="0.5" fill="#D8D9DC" stroke="#77797F" stroke-width="0.55"/>
<rect x="266.30" y="310.60" width="3.90" height="5.00" rx="0.5" fill="#F2F1EA" stroke="#77797F" stroke-width="0.55"/>
<rect x="282.30" y="313.00" width="4.20" height="3.90" rx="0.5" fill="#F2F1EA" stroke="#333" stroke-width="0.55"/>
<rect x="356.00" y="295.60" width="5.00" height="4.20" rx="0.5" fill="#D8D9DC" stroke="#77797F" stroke-width="0.55"/>
<circle cx="377.30" cy="298.00" r="1.20" fill="#E8E8E4" stroke="#444" stroke-width="0.6" />
<circle cx="377.30" cy="307.50" r="1.20" fill="#E8E8E4" stroke="#444" stroke-width="0.6" />
<rect x="381.30" y="296.40" width="26.20" height="13.60" fill="#6b6d72" stroke="#4a4a4e" stroke-width="0.5" />
<line x1="381.30" y1="299.80" x2="407.50" y2="299.80" stroke="#55565a" stroke-width="0.5" />
<line x1="381.30" y1="303.20" x2="407.50" y2="303.20" stroke="#55565a" stroke-width="0.5" />
<line x1="381.30" y1="306.60" x2="407.50" y2="306.60" stroke="#55565a" stroke-width="0.5" />
<line x1="384.58" y1="296.40" x2="384.58" y2="310.00" stroke="#595b60" stroke-width="0.4" />
<line x1="387.86" y1="296.40" x2="387.86" y2="310.00" stroke="#595b60" stroke-width="0.4" />
<line x1="391.14" y1="296.40" x2="391.14" y2="310.00" stroke="#595b60" stroke-width="0.4" />
<line x1="394.42" y1="296.40" x2="394.42" y2="310.00" stroke="#595b60" stroke-width="0.4" />
<line x1="397.70" y1="296.40" x2="397.70" y2="310.00" stroke="#595b60" stroke-width="0.4" />
<line x1="400.98" y1="296.40" x2="400.98" y2="310.00" stroke="#595b60" stroke-width="0.4" />
<line x1="404.26" y1="296.40" x2="404.26" y2="310.00" stroke="#595b60" stroke-width="0.4" />
<circle cx="411.30" cy="298.20" r="1.30" fill="#E8E8E4" stroke="#444" stroke-width="0.6" />
<circle cx="411.30" cy="307.60" r="1.30" fill="#E8E8E4" stroke="#444" stroke-width="0.6" />
<rect x="391.90" y="285.80" width="5.60" height="4.00" rx="0.5" fill="#D8D9DC" stroke="#77797F" stroke-width="0.55"/>
<rect x="477.50" y="311.20" width="3.80" height="3.20" rx="0.5" fill="#F2F1EA" stroke="#333" stroke-width="0.55"/>
<rect x="489.40" y="305.00" width="7.60" height="3.80" rx="0.5" fill="#F2F1EA" stroke="#333" stroke-width="0.55"/>
<rect x="509.80" y="291.50" width="5.80" height="4.10" rx="0.5" fill="#D8D9DC" stroke="#77797F" stroke-width="0.55"/>
<path d="M519.4 290.89 Q520.4 290.065 523.4 289.9 L538 289.9 Q543 290.56 547 293.2 Q543 295.84 538 296.5 L523.4 296.5 Q520.4 296.335 519.4 295.51 Z" fill="#261a0e" stroke="#120c06" stroke-width="0.6" />
<line x1="523.40" y1="290.80" x2="523.40" y2="295.60" stroke="#54391a" stroke-width="0.9" />
<line x1="525.60" y1="290.80" x2="525.60" y2="295.60" stroke="#54391a" stroke-width="0.9" />
<line x1="527.80" y1="290.80" x2="527.80" y2="295.60" stroke="#54391a" stroke-width="0.9" />
<line x1="530.00" y1="290.80" x2="530.00" y2="295.60" stroke="#54391a" stroke-width="0.9" />
<line x1="532.20" y1="290.80" x2="532.20" y2="295.60" stroke="#54391a" stroke-width="0.9" />
<line x1="534.40" y1="290.80" x2="534.40" y2="295.60" stroke="#54391a" stroke-width="0.9" />
<line x1="536.60" y1="290.80" x2="536.60" y2="295.60" stroke="#54391a" stroke-width="0.9" />
<line x1="538.80" y1="290.80" x2="538.80" y2="295.60" stroke="#54391a" stroke-width="0.9" />
<rect x="520.00" y="291.40" width="3.20" height="3.60" fill="#b9a070" stroke="#222" stroke-width="0.4" />
<line x1="503.00" y1="299.40" x2="527.60" y2="299.40" stroke="#8b8e96" stroke-width="1.0" />
<line x1="505.50" y1="298.60" x2="505.50" y2="301.00" stroke="#55565C" stroke-width="0.6" />
<line x1="516.00" y1="298.60" x2="516.00" y2="301.00" stroke="#55565C" stroke-width="0.6" />
<line x1="526.00" y1="298.60" x2="526.00" y2="301.00" stroke="#55565C" stroke-width="0.6" />
<path d="M503 302.48 Q504 301.58 507 301.4 L521.6 301.4 Q526.6 302.12 530.6 305 Q526.6 307.88 521.6 308.6 L507 308.6 Q504 308.42 503 307.52 Z" fill="#261a0e" stroke="#120c06" stroke-width="0.6" />
<line x1="507.00" y1="302.30" x2="507.00" y2="307.70" stroke="#54391a" stroke-width="0.9" />
<line x1="509.20" y1="302.30" x2="509.20" y2="307.70" stroke="#54391a" stroke-width="0.9" />
<line x1="511.40" y1="302.30" x2="511.40" y2="307.70" stroke="#54391a" stroke-width="0.9" />
<line x1="513.60" y1="302.30" x2="513.60" y2="307.70" stroke="#54391a" stroke-width="0.9" />
<line x1="515.80" y1="302.30" x2="515.80" y2="307.70" stroke="#54391a" stroke-width="0.9" />
<line x1="518.00" y1="302.30" x2="518.00" y2="307.70" stroke="#54391a" stroke-width="0.9" />
<line x1="520.20" y1="302.30" x2="520.20" y2="307.70" stroke="#54391a" stroke-width="0.9" />
<line x1="522.40" y1="302.30" x2="522.40" y2="307.70" stroke="#54391a" stroke-width="0.9" />
<rect x="503.60" y="303.00" width="2.40" height="4.00" fill="#C6CAD2" stroke="#222" stroke-width="0.4" />
<rect x="552.50" y="293.00" width="6.30" height="4.00" fill="#2b2c30" stroke="#222" stroke-width="0.4" />
<line x1="569.00" y1="300.80" x2="579.00" y2="300.80" stroke="#8b8e96" stroke-width="1.0" />
<circle cx="579.80" cy="300.60" r="4.40" fill="#C3C7CF" stroke="#3C3C40" stroke-width="0.7" />
<circle cx="579.40" cy="300.60" r="2.50" fill="#E8E9EC" stroke="#55565C" stroke-width="0.4" />
<path d="M580.5 297.8 Q583.6 300.6 580.5 303.4 Z" fill="#333" stroke="none" stroke-width="0" />
<circle cx="557.00" cy="281.60" r="5.60" fill="#9a9ea8" stroke="#3C3C40" stroke-width="0.7" />
<line x1="549.50" y1="281.60" x2="564.50" y2="281.60" stroke="#3C3C40" stroke-width="1.2" />
<circle cx="557.00" cy="281.60" r="2.00" fill="#F2F1EA" stroke="#333" stroke-width="0.6" />
<rect x="596.30" y="292.50" width="4.30" height="15.50" fill="#A4A8B1" stroke="#55565C" stroke-width="0.5" />
<line x1="608.00" y1="290.00" x2="608.00" y2="318.00" stroke="#4a4a4e" stroke-width="0.6" />
<line x1="611.30" y1="297.00" x2="611.30" y2="318.00" stroke="#7a5a30" stroke-width="0.5" stroke-dasharray="1.5 1"/>
<line x1="363.00" y1="290.00" x2="363.00" y2="318.00" stroke="#4a4a4e" stroke-width="0.7" />
<rect x="621.30" y="300.60" width="7.50" height="5.00" rx="0.5" fill="#D8D9DC" stroke="#55565C" stroke-width="0.55"/>
<rect x="638.80" y="305.00" width="7.50" height="4.40" rx="0.5" fill="#D8D9DC" stroke="#55565C" stroke-width="0.55"/>
<rect x="648.50" y="312.50" width="8.50" height="5.00" rx="0.5" fill="#D8D9DC" stroke="#55565C" stroke-width="0.55"/>
<rect x="702.00" y="311.20" width="4.00" height="3.20" rx="0.5" fill="#F2F1EA" stroke="#333" stroke-width="0.55"/>
<rect x="714.00" y="305.00" width="5.60" height="3.80" rx="0.5" fill="#F2F1EA" stroke="#333" stroke-width="0.55"/>
<rect x="736.80" y="309.50" width="1.40" height="4.10" fill="#111" stroke="#111" stroke-width="0.2" />
<rect x="741.30" y="306.30" width="4.30" height="4.30" rx="0.5" fill="#F2F1EA" stroke="#77797F" stroke-width="0.55"/>
<rect x="749.30" y="300.20" width="1.60" height="1.60" fill="#6d7078" stroke="#444" stroke-width="0.3" />
<path d="M757 305.2 L790 307.4 L814 310.0 L814 312.6 L790 311.2 L757 310.2 Z" fill="#3a3c42" stroke="#222326" stroke-width="0.4" />
<path d="M758 307.7 L790 309.3" fill="none" stroke="#C98F3E" stroke-width="0.5" stroke-dasharray="7 4"/>
<path d="M759 306.6 L788 308.4 L812 310.8" fill="none" stroke="#5f636b" stroke-width="0.8" stroke-dasharray="5 3"/>
<path d="M759 309.0 L788 310.2 L812 312.0" fill="none" stroke="#50545c" stroke-width="0.6" stroke-dasharray="4 4"/>
<path d="M772 312.4 L814 313.6 L814 315.7 L772 315.7 Z" fill="#3a3c42" stroke="#222326" stroke-width="0.4" />
<path d="M774 313.4 L812 314.4" fill="none" stroke="#5f636b" stroke-width="0.8" stroke-dasharray="5 3"/>
<rect x="751.90" y="304.60" width="5.90" height="7.20" fill="#3a3c42" stroke="#1c1d20" stroke-width="0.6" />
<circle cx="754.90" cy="308.20" r="1.10" fill="#C6CAD2" stroke="none" stroke-width="0" />
<circle cx="752.60" cy="305.30" r="0.45" fill="#D8D9DC" stroke="none" stroke-width="0" />
<circle cx="757.10" cy="305.30" r="0.45" fill="#D8D9DC" stroke="none" stroke-width="0" />
<circle cx="752.60" cy="311.10" r="0.45" fill="#D8D9DC" stroke="none" stroke-width="0" />
<circle cx="757.10" cy="311.10" r="0.45" fill="#D8D9DC" stroke="none" stroke-width="0" />
<rect x="766.90" y="311.50" width="5.90" height="6.60" fill="#3a3c42" stroke="#1c1d20" stroke-width="0.6" />
<circle cx="769.90" cy="314.60" r="1.10" fill="#C6CAD2" stroke="none" stroke-width="0" />
<circle cx="767.60" cy="312.20" r="0.45" fill="#D8D9DC" stroke="none" stroke-width="0" />
<circle cx="772.10" cy="312.20" r="0.45" fill="#D8D9DC" stroke="none" stroke-width="0" />
<circle cx="767.60" cy="317.40" r="0.45" fill="#D8D9DC" stroke="none" stroke-width="0" />
<circle cx="772.10" cy="317.40" r="0.45" fill="#D8D9DC" stroke="none" stroke-width="0" />
<path d="M762 309.6 l3.4 0 l0 1.8 l-3.4 0 Z M778 315.8 l3.6 0 l0 1.7 l-3.6 0 Z" fill="#1c1d20" stroke="none" stroke-width="0" />
<ellipse cx="817.30" cy="311.60" rx="2.20" ry="1.00" fill="#1c1c1e" stroke="none" stroke-width="0" />
<ellipse cx="832.00" cy="315.00" rx="1.80" ry="0.90" fill="#1c1c1e" stroke="none" stroke-width="0" />
<ellipse cx="843.80" cy="314.60" rx="2.40" ry="1.00" fill="#7d8088" stroke="#444" stroke-width="0.3" />
</g>
<rect x="171.30" y="317.30" width="5.00" height="2.80" rx="0.5" fill="#E8E8E4" stroke="#77797F" stroke-width="0.55"/>
<rect x="181.30" y="317.30" width="6.20" height="2.80" rx="0.5" fill="#D8D9DC" stroke="#77797F" stroke-width="0.55"/>
<circle cx="191.50" cy="318.70" r="1.50" fill="#E8E8E4" stroke="#77797F" stroke-width="0.5" />
<rect x="200.20" y="312.20" width="7.10" height="5.40" fill="#1D557A" stroke="#16242e" stroke-width="0.7" />
<line x1="200.70" y1="314.90" x2="206.80" y2="314.90" stroke="#7d8088" stroke-width="1.3" />
<rect x="201.00" y="312.90" width="1" height="0.8" fill="#2E9AD0"/>
<rect x="201.00" y="316.10" width="1" height="0.8" fill="#2E9AD0"/>
<rect x="203.25" y="312.90" width="1" height="0.8" fill="#2E9AD0"/>
<rect x="203.25" y="316.10" width="1" height="0.8" fill="#2E9AD0"/>
<rect x="205.50" y="312.90" width="1" height="0.8" fill="#2E9AD0"/>
<rect x="205.50" y="316.10" width="1" height="0.8" fill="#2E9AD0"/>
<rect x="200.20" y="320.00" width="7.10" height="5.60" fill="#1D557A" stroke="#16242e" stroke-width="0.7" />
<line x1="200.70" y1="322.80" x2="206.80" y2="322.80" stroke="#7d8088" stroke-width="1.3" />
<rect x="201.00" y="320.70" width="1" height="0.8" fill="#2E9AD0"/>
<rect x="201.00" y="324.10" width="1" height="0.8" fill="#2E9AD0"/>
<rect x="203.25" y="320.70" width="1" height="0.8" fill="#2E9AD0"/>
<rect x="203.25" y="324.10" width="1" height="0.8" fill="#2E9AD0"/>
<rect x="205.50" y="320.70" width="1" height="0.8" fill="#2E9AD0"/>
<rect x="205.50" y="324.10" width="1" height="0.8" fill="#2E9AD0"/>
<rect x="208.60" y="312.20" width="7.40" height="5.40" fill="#1D557A" stroke="#16242e" stroke-width="0.7" />
<line x1="209.10" y1="314.90" x2="215.50" y2="314.90" stroke="#7d8088" stroke-width="1.3" />
<rect x="209.40" y="312.90" width="1" height="0.8" fill="#2E9AD0"/>
<rect x="209.40" y="316.10" width="1" height="0.8" fill="#2E9AD0"/>
<rect x="211.80" y="312.90" width="1" height="0.8" fill="#2E9AD0"/>
<rect x="211.80" y="316.10" width="1" height="0.8" fill="#2E9AD0"/>
<rect x="214.20" y="312.90" width="1" height="0.8" fill="#2E9AD0"/>
<rect x="214.20" y="316.10" width="1" height="0.8" fill="#2E9AD0"/>
<rect x="208.60" y="320.00" width="7.40" height="5.60" fill="#1D557A" stroke="#16242e" stroke-width="0.7" />
<line x1="209.10" y1="322.80" x2="215.50" y2="322.80" stroke="#7d8088" stroke-width="1.3" />
<rect x="209.40" y="320.70" width="1" height="0.8" fill="#2E9AD0"/>
<rect x="209.40" y="324.10" width="1" height="0.8" fill="#2E9AD0"/>
<rect x="211.80" y="320.70" width="1" height="0.8" fill="#2E9AD0"/>
<rect x="211.80" y="324.10" width="1" height="0.8" fill="#2E9AD0"/>
<rect x="214.20" y="320.70" width="1" height="0.8" fill="#2E9AD0"/>
<rect x="214.20" y="324.10" width="1" height="0.8" fill="#2E9AD0"/>
<rect x="224.40" y="312.20" width="9.80" height="5.40" fill="#1D557A" stroke="#16242e" stroke-width="0.7" />
<line x1="224.90" y1="314.90" x2="233.70" y2="314.90" stroke="#7d8088" stroke-width="1.3" />
<rect x="225.20" y="312.90" width="1" height="0.8" fill="#2E9AD0"/>
<rect x="225.20" y="316.10" width="1" height="0.8" fill="#2E9AD0"/>
<rect x="228.80" y="312.90" width="1" height="0.8" fill="#2E9AD0"/>
<rect x="228.80" y="316.10" width="1" height="0.8" fill="#2E9AD0"/>
<rect x="232.40" y="312.90" width="1" height="0.8" fill="#2E9AD0"/>
<rect x="232.40" y="316.10" width="1" height="0.8" fill="#2E9AD0"/>
<rect x="224.40" y="320.00" width="9.80" height="5.60" fill="#1D557A" stroke="#16242e" stroke-width="0.7" />
<line x1="224.90" y1="322.80" x2="233.70" y2="322.80" stroke="#7d8088" stroke-width="1.3" />
<rect x="225.20" y="320.70" width="1" height="0.8" fill="#2E9AD0"/>
<rect x="225.20" y="324.10" width="1" height="0.8" fill="#2E9AD0"/>
<rect x="228.80" y="320.70" width="1" height="0.8" fill="#2E9AD0"/>
<rect x="228.80" y="324.10" width="1" height="0.8" fill="#2E9AD0"/>
<rect x="232.40" y="320.70" width="1" height="0.8" fill="#2E9AD0"/>
<rect x="232.40" y="324.10" width="1" height="0.8" fill="#2E9AD0"/>
<rect x="216.90" y="317.20" width="5.70" height="3.00" rx="0.5" fill="#D8D9DC" stroke="#77797F" stroke-width="0.55"/>
<rect x="237.60" y="317.60" width="2.00" height="2.20" fill="#55565C" stroke="#333" stroke-width="0.4" />
<circle cx="315.86" cy="302.93" r="0.85" fill="#B0B4BE" stroke="#45464C" stroke-width="0.5" />
<circle cx="310.50" cy="300.65" r="0.85" fill="#B0B4BE" stroke="#45464C" stroke-width="0.5" />
<circle cx="301.50" cy="300.65" r="0.85" fill="#B0B4BE" stroke="#45464C" stroke-width="0.5" />
<circle cx="296.14" cy="302.93" r="0.85" fill="#B0B4BE" stroke="#45464C" stroke-width="0.5" />
<circle cx="292.62" cy="305.78" r="0.85" fill="#B0B4BE" stroke="#45464C" stroke-width="0.5" />
<circle cx="315.86" cy="334.47" r="0.85" fill="#B0B4BE" stroke="#45464C" stroke-width="0.5" />
<circle cx="310.50" cy="336.75" r="0.85" fill="#B0B4BE" stroke="#45464C" stroke-width="0.5" />
<circle cx="301.50" cy="336.75" r="0.85" fill="#B0B4BE" stroke="#45464C" stroke-width="0.5" />
<circle cx="296.14" cy="334.47" r="0.85" fill="#B0B4BE" stroke="#45464C" stroke-width="0.5" />
<circle cx="292.62" cy="331.62" r="0.85" fill="#B0B4BE" stroke="#45464C" stroke-width="0.5" />
<rect x="265.40" y="309.05" width="28.60" height="1.90" fill="#85888e" stroke="#35363a" stroke-width="0.6" />
<rect x="265.40" y="317.75" width="28.60" height="1.90" fill="#85888e" stroke="#35363a" stroke-width="0.6" />
<rect x="265.40" y="326.45" width="28.60" height="1.90" fill="#85888e" stroke="#35363a" stroke-width="0.6" />
<path d="M330 311.2 Q329.8 304.5 322 303.5 L306 301.5 Q289.2 302.2 289.2 318.7 Q289.2 335.2 306 335.9 L322 333.9 Q329.8 332.9 330 326.2 Z" fill="#CFD2DA" stroke="#3f4046" stroke-width="0.9" />
<path d="M329.3 311.2 Q329.1 305.7 323 304.7 L299 304.09999999999997 L299 333.3 L323 332.7 Q329.1 331.7 329.3 326.2 Z" fill="#B9BEC9" stroke="#7a7c84" stroke-width="0.4" />
<line x1="309.40" y1="305.30" x2="309.40" y2="332.10" stroke="#3f4046" stroke-width="0.8" />
<line x1="299.20" y1="304.30" x2="299.20" y2="333.10" stroke="#3f4046" stroke-width="0.8" />
<line x1="309.40" y1="310.00" x2="297.00" y2="310.00" stroke="#3f4046" stroke-width="0.6" />
<path d="M311 310.0 L308 308.5 L306.6 310.0 L308 311.5 Z" fill="#222326" stroke="none" stroke-width="0" />
<line x1="309.40" y1="327.40" x2="297.00" y2="327.40" stroke="#3f4046" stroke-width="0.6" />
<path d="M311 327.4 L308 325.9 L306.6 327.4 L308 328.9 Z" fill="#222326" stroke="none" stroke-width="0" />
<rect x="303.40" y="302.70" width="2.00" height="1.80" fill="#2a2b2e" stroke="none" stroke-width="0" />
<rect x="303.40" y="332.90" width="2.00" height="1.80" fill="#2a2b2e" stroke="none" stroke-width="0" />
<rect x="284.40" y="308.60" width="13.00" height="2.8" rx="0.9" fill="#A0A3A9" stroke="#35363a" stroke-width="0.6"/>
<rect x="284.40" y="317.30" width="13.00" height="2.8" rx="0.9" fill="#A0A3A9" stroke="#35363a" stroke-width="0.6"/>
<rect x="284.40" y="326.00" width="13.00" height="2.8" rx="0.9" fill="#A0A3A9" stroke="#35363a" stroke-width="0.6"/>
<circle cx="449.14" cy="302.93" r="0.85" fill="#B0B4BE" stroke="#45464C" stroke-width="0.5" />
<circle cx="454.50" cy="300.65" r="0.85" fill="#B0B4BE" stroke="#45464C" stroke-width="0.5" />
<circle cx="463.50" cy="300.65" r="0.85" fill="#B0B4BE" stroke="#45464C" stroke-width="0.5" />
<circle cx="468.86" cy="302.93" r="0.85" fill="#B0B4BE" stroke="#45464C" stroke-width="0.5" />
<circle cx="472.38" cy="305.78" r="0.85" fill="#B0B4BE" stroke="#45464C" stroke-width="0.5" />
<circle cx="449.14" cy="334.47" r="0.85" fill="#B0B4BE" stroke="#45464C" stroke-width="0.5" />
<circle cx="454.50" cy="336.75" r="0.85" fill="#B0B4BE" stroke="#45464C" stroke-width="0.5" />
<circle cx="463.50" cy="336.75" r="0.85" fill="#B0B4BE" stroke="#45464C" stroke-width="0.5" />
<circle cx="468.86" cy="334.47" r="0.85" fill="#B0B4BE" stroke="#45464C" stroke-width="0.5" />
<circle cx="472.38" cy="331.62" r="0.85" fill="#B0B4BE" stroke="#45464C" stroke-width="0.5" />
<rect x="471.00" y="309.05" width="28.60" height="1.90" fill="#85888e" stroke="#35363a" stroke-width="0.6" />
<rect x="471.00" y="317.75" width="28.60" height="1.90" fill="#85888e" stroke="#35363a" stroke-width="0.6" />
<rect x="471.00" y="326.45" width="28.60" height="1.90" fill="#85888e" stroke="#35363a" stroke-width="0.6" />
<path d="M435 311.2 Q435.2 304.5 443 303.5 L459 301.5 Q475.8 302.2 475.8 318.7 Q475.8 335.2 459 335.9 L443 333.9 Q435.2 332.9 435 326.2 Z" fill="#CFD2DA" stroke="#3f4046" stroke-width="0.9" />
<path d="M435.7 311.2 Q435.9 305.7 442 304.7 L466 304.09999999999997 L466 333.3 L442 332.7 Q435.9 331.7 435.7 326.2 Z" fill="#B9BEC9" stroke="#7a7c84" stroke-width="0.4" />
<line x1="455.60" y1="305.30" x2="455.60" y2="332.10" stroke="#3f4046" stroke-width="0.8" />
<line x1="465.80" y1="304.30" x2="465.80" y2="333.10" stroke="#3f4046" stroke-width="0.8" />
<line x1="455.60" y1="310.00" x2="468.00" y2="310.00" stroke="#3f4046" stroke-width="0.6" />
<path d="M454 310.0 L457 308.5 L458.4 310.0 L457 311.5 Z" fill="#222326" stroke="none" stroke-width="0" />
<line x1="455.60" y1="327.40" x2="468.00" y2="327.40" stroke="#3f4046" stroke-width="0.6" />
<path d="M454 327.4 L457 325.9 L458.4 327.4 L457 328.9 Z" fill="#222326" stroke="none" stroke-width="0" />
<rect x="459.60" y="302.70" width="2.00" height="1.80" fill="#2a2b2e" stroke="none" stroke-width="0" />
<rect x="459.60" y="332.90" width="2.00" height="1.80" fill="#2a2b2e" stroke="none" stroke-width="0" />
<rect x="467.60" y="308.60" width="13.00" height="2.8" rx="0.9" fill="#A0A3A9" stroke="#35363a" stroke-width="0.6"/>
<rect x="467.60" y="317.30" width="13.00" height="2.8" rx="0.9" fill="#A0A3A9" stroke="#35363a" stroke-width="0.6"/>
<rect x="467.60" y="326.00" width="13.00" height="2.8" rx="0.9" fill="#A0A3A9" stroke="#35363a" stroke-width="0.6"/>
<circle cx="673.74" cy="302.93" r="0.85" fill="#B0B4BE" stroke="#45464C" stroke-width="0.5" />
<circle cx="679.10" cy="300.65" r="0.85" fill="#B0B4BE" stroke="#45464C" stroke-width="0.5" />
<circle cx="688.10" cy="300.65" r="0.85" fill="#B0B4BE" stroke="#45464C" stroke-width="0.5" />
<circle cx="693.46" cy="302.93" r="0.85" fill="#B0B4BE" stroke="#45464C" stroke-width="0.5" />
<circle cx="696.98" cy="305.78" r="0.85" fill="#B0B4BE" stroke="#45464C" stroke-width="0.5" />
<circle cx="673.74" cy="334.47" r="0.85" fill="#B0B4BE" stroke="#45464C" stroke-width="0.5" />
<circle cx="679.10" cy="336.75" r="0.85" fill="#B0B4BE" stroke="#45464C" stroke-width="0.5" />
<circle cx="688.10" cy="336.75" r="0.85" fill="#B0B4BE" stroke="#45464C" stroke-width="0.5" />
<circle cx="693.46" cy="334.47" r="0.85" fill="#B0B4BE" stroke="#45464C" stroke-width="0.5" />
<circle cx="696.98" cy="331.62" r="0.85" fill="#B0B4BE" stroke="#45464C" stroke-width="0.5" />
<rect x="695.60" y="309.05" width="28.60" height="1.90" fill="#85888e" stroke="#35363a" stroke-width="0.6" />
<rect x="695.60" y="317.75" width="28.60" height="1.90" fill="#85888e" stroke="#35363a" stroke-width="0.6" />
<rect x="695.60" y="326.45" width="28.60" height="1.90" fill="#85888e" stroke="#35363a" stroke-width="0.6" />
<path d="M659.6 311.2 Q659.8000000000001 304.5 667.6 303.5 L683.6 301.5 Q700.4 302.2 700.4 318.7 Q700.4 335.2 683.6 335.9 L667.6 333.9 Q659.8000000000001 332.9 659.6 326.2 Z" fill="#CFD2DA" stroke="#3f4046" stroke-width="0.9" />
<path d="M660.3000000000001 311.2 Q660.5 305.7 666.6 304.7 L690.6 304.09999999999997 L690.6 333.3 L666.6 332.7 Q660.5 331.7 660.3000000000001 326.2 Z" fill="#B9BEC9" stroke="#7a7c84" stroke-width="0.4" />
<line x1="680.20" y1="305.30" x2="680.20" y2="332.10" stroke="#3f4046" stroke-width="0.8" />
<line x1="690.40" y1="304.30" x2="690.40" y2="333.10" stroke="#3f4046" stroke-width="0.8" />
<line x1="680.20" y1="310.00" x2="692.60" y2="310.00" stroke="#3f4046" stroke-width="0.6" />
<path d="M678.6 310.0 L681.6 308.5 L683.0 310.0 L681.6 311.5 Z" fill="#222326" stroke="none" stroke-width="0" />
<line x1="680.20" y1="327.40" x2="692.60" y2="327.40" stroke="#3f4046" stroke-width="0.6" />
<path d="M678.6 327.4 L681.6 325.9 L683.0 327.4 L681.6 328.9 Z" fill="#222326" stroke="none" stroke-width="0" />
<rect x="684.20" y="302.70" width="2.00" height="1.80" fill="#2a2b2e" stroke="none" stroke-width="0" />
<rect x="684.20" y="332.90" width="2.00" height="1.80" fill="#2a2b2e" stroke="none" stroke-width="0" />
<rect x="692.20" y="308.60" width="13.00" height="2.8" rx="0.9" fill="#A0A3A9" stroke="#35363a" stroke-width="0.6"/>
<rect x="692.20" y="317.30" width="13.00" height="2.8" rx="0.9" fill="#A0A3A9" stroke="#35363a" stroke-width="0.6"/>
<rect x="692.20" y="326.00" width="13.00" height="2.8" rx="0.9" fill="#A0A3A9" stroke="#35363a" stroke-width="0.6"/>
<rect x="489.40" y="316.00" width="7.60" height="5.20" fill="#3f4045" stroke="#222" stroke-width="0.4" />
<rect x="433.60" y="313.00" width="1.40" height="4.00" fill="#333" stroke="none" stroke-width="0" />
<rect x="433.60" y="320.00" width="1.40" height="4.00" fill="#333" stroke="none" stroke-width="0" />
<rect x="729.40" y="316.80" width="5.60" height="3.80" rx="0.5" fill="#D0D1D4" stroke="#45464C" stroke-width="0.55"/>
<rect x="332.6" y="305.7" width="15" height="26" rx="4" fill="#7d8086" stroke="#2c2d30" stroke-width="0.8"/>
<rect x="334.6" y="309" width="10.4" height="19.4" rx="3.4" fill="#A4A7AD" stroke="#45464c" stroke-width="0.5"/>
<line x1="338.90" y1="307.50" x2="338.90" y2="330.00" stroke="#E8E9EC" stroke-width="1.4" />
<line x1="338.90" y1="307.50" x2="338.90" y2="330.00" stroke="#55565C" stroke-width="0.4" />
<line x1="334.60" y1="318.70" x2="349.00" y2="318.70" stroke="#222" stroke-width="0.8" />
<circle cx="338.90" cy="318.70" r="2.60" fill="#D8D9DC" stroke="#4a4a50" stroke-width="0.6" />
<circle cx="338.90" cy="318.70" r="1.20" fill="#F2F1EA" stroke="#55565C" stroke-width="0.4" />
<path d="M349.5 309.5 L353 308.2 L360 308.2 L364 318.7 L360 329.2 L353 329.2 L349.5 328 Z" fill="#85888e" stroke="#3C3C40" stroke-width="0.6" />
<path d="M352 310.5 L358 316.5 M352 327 L358 321" fill="none" stroke="#E8E8E4" stroke-width="1.2" />
<path d="M349.5 317.4 L364 316 L364 321.4 L349.5 320 Z M359.5 308.5 L364.4 308.5 L364.4 329 L359.5 329 L361.6 318.7 Z" fill="#1c1c1e" stroke="none" stroke-width="0" />
<rect x="365.00" y="315.00" width="6.00" height="7.50" fill="#2b2c30" stroke="#222" stroke-width="0.4" />
<rect x="417.50" y="315.00" width="6.90" height="7.50" fill="#2b2c30" stroke="#222" stroke-width="0.4" />
<line x1="417.50" y1="317.50" x2="424.40" y2="317.50" stroke="#444" stroke-width="0.4" />
<line x1="365.00" y1="317.50" x2="371.00" y2="317.50" stroke="#444" stroke-width="0.4" />
<line x1="417.50" y1="320.00" x2="424.40" y2="320.00" stroke="#444" stroke-width="0.4" />
<line x1="365.00" y1="320.00" x2="371.00" y2="320.00" stroke="#444" stroke-width="0.4" />
<rect x="502.30" y="310.00" width="26.20" height="17.50" fill="#9a9da4" stroke="#4a4a50" stroke-width="0.7" />
<ellipse cx="515.40" cy="318.60" rx="11.20" ry="8.50" fill="#232327" stroke="#111" stroke-width="0.5" />
<ellipse cx="515.40" cy="318.60" rx="7.60" ry="5.60" fill="#18181b" stroke="#333539" stroke-width="0.6" />
<line x1="515.40" y1="313.20" x2="515.40" y2="324.00" stroke="#3a3b40" stroke-width="0.6" />
<line x1="508.00" y1="318.60" x2="522.80" y2="318.60" stroke="#3a3b40" stroke-width="0.6" />
<rect x="535.40" y="298.40" width="35.10" height="40.40" fill="#6e7076" stroke="#2c2d30" stroke-width="0.7" />
<rect x="536.40" y="298.60" width="32.20" height="6.80" fill="#45464a" stroke="#1a1a1c" stroke-width="0.6" />
<line x1="538.00" y1="300.30" x2="562.00" y2="300.30" stroke="#C6CAD2" stroke-width="1.3" />
<line x1="540.00" y1="303.50" x2="566.00" y2="303.50" stroke="#9a9da6" stroke-width="1.2" />
<line x1="543.00" y1="299.00" x2="543.00" y2="305.00" stroke="#1c1c1e" stroke-width="0.7" />
<line x1="549.00" y1="299.00" x2="549.00" y2="305.00" stroke="#1c1c1e" stroke-width="0.7" />
<line x1="555.00" y1="299.00" x2="555.00" y2="305.00" stroke="#1c1c1e" stroke-width="0.7" />
<path d="M562 299.6 L570 302.0 L562 304.4 Z" fill="#B8935A" stroke="#222" stroke-width="0.3" />
<circle cx="579.00" cy="300.20" r="0.10" fill="none" stroke="none" stroke-width="0" />
<rect x="536.40" y="331.40" width="32.20" height="6.80" fill="#45464a" stroke="#1a1a1c" stroke-width="0.6" />
<line x1="538.00" y1="336.50" x2="562.00" y2="336.50" stroke="#C6CAD2" stroke-width="1.3" />
<line x1="540.00" y1="333.30" x2="566.00" y2="333.30" stroke="#9a9da6" stroke-width="1.2" />
<line x1="543.00" y1="331.80" x2="543.00" y2="337.80" stroke="#1c1c1e" stroke-width="0.7" />
<line x1="549.00" y1="331.80" x2="549.00" y2="337.80" stroke="#1c1c1e" stroke-width="0.7" />
<line x1="555.00" y1="331.80" x2="555.00" y2="337.80" stroke="#1c1c1e" stroke-width="0.7" />
<path d="M562 332.4 L570 334.79999999999995 L562 337.19999999999993 Z" fill="#B8935A" stroke="#222" stroke-width="0.3" />
<circle cx="579.00" cy="336.60" r="0.10" fill="none" stroke="none" stroke-width="0" />
<path d="M536.5 306.59999999999997 L565.8 306.59999999999997 Q570.8 308.67999999999995 572.8 311.79999999999995 Q570.8 314.91999999999996 565.8 316.99999999999994 L536.5 316.99999999999994 Z" fill="#A88A56" stroke="#2a2016" stroke-width="0.6" />
<path d="M539.5 308.2 L561.8 308.2 Q564.8 311.79999999999995 561.8 315.3999999999999 L539.5 315.3999999999999 Z" fill="#2e2214" stroke="#2a2016" stroke-width="0.4" />
<path d="M536.5 320.0 L565.8 320.0 Q570.8 322.08 572.8 325.2 Q570.8 328.32 565.8 330.4 L536.5 330.4 Z" fill="#A88A56" stroke="#2a2016" stroke-width="0.6" />
<path d="M539.5 321.6 L561.8 321.6 Q564.8 325.2 561.8 328.79999999999995 L539.5 328.79999999999995 Z" fill="#5a5c62" stroke="#2a2016" stroke-width="0.4" />
<line x1="541.00" y1="308.40" x2="541.00" y2="315.00" stroke="#6b5230" stroke-width="0.7" />
<line x1="541.00" y1="322.80" x2="541.00" y2="328.00" stroke="#2c2d30" stroke-width="0.8" />
<line x1="543.60" y1="308.40" x2="543.60" y2="315.00" stroke="#6b5230" stroke-width="0.7" />
<line x1="543.60" y1="322.80" x2="543.60" y2="328.00" stroke="#2c2d30" stroke-width="0.8" />
<line x1="546.20" y1="308.40" x2="546.20" y2="315.00" stroke="#6b5230" stroke-width="0.7" />
<line x1="546.20" y1="322.80" x2="546.20" y2="328.00" stroke="#2c2d30" stroke-width="0.8" />
<line x1="548.80" y1="308.40" x2="548.80" y2="315.00" stroke="#6b5230" stroke-width="0.7" />
<line x1="548.80" y1="322.80" x2="548.80" y2="328.00" stroke="#2c2d30" stroke-width="0.8" />
<line x1="551.40" y1="308.40" x2="551.40" y2="315.00" stroke="#6b5230" stroke-width="0.7" />
<line x1="551.40" y1="322.80" x2="551.40" y2="328.00" stroke="#2c2d30" stroke-width="0.8" />
<line x1="554.00" y1="308.40" x2="554.00" y2="315.00" stroke="#6b5230" stroke-width="0.7" />
<line x1="554.00" y1="322.80" x2="554.00" y2="328.00" stroke="#2c2d30" stroke-width="0.8" />
<line x1="556.60" y1="308.40" x2="556.60" y2="315.00" stroke="#6b5230" stroke-width="0.7" />
<line x1="556.60" y1="322.80" x2="556.60" y2="328.00" stroke="#2c2d30" stroke-width="0.8" />
<line x1="559.20" y1="308.40" x2="559.20" y2="315.00" stroke="#6b5230" stroke-width="0.7" />
<line x1="559.20" y1="322.80" x2="559.20" y2="328.00" stroke="#2c2d30" stroke-width="0.8" />
<rect x="556.50" y="308.90" width="2.20" height="5.70" fill="#D9B878" stroke="#2a2016" stroke-width="0.3" />
<rect x="556.50" y="322.40" width="2.20" height="5.60" fill="#D9B878" stroke="#2a2016" stroke-width="0.3" />
<rect x="560.50" y="308.90" width="2.20" height="5.70" fill="#D9B878" stroke="#2a2016" stroke-width="0.3" />
<rect x="560.50" y="322.40" width="2.20" height="5.60" fill="#D9B878" stroke="#2a2016" stroke-width="0.3" />
<rect x="564.50" y="308.90" width="2.20" height="5.70" fill="#D9B878" stroke="#2a2016" stroke-width="0.3" />
<rect x="564.50" y="322.40" width="2.20" height="5.60" fill="#D9B878" stroke="#2a2016" stroke-width="0.3" />
<line x1="535.40" y1="318.50" x2="572.00" y2="318.50" stroke="#55565C" stroke-width="0.8" />
<path d="M605 306.3 L586.5 306.3 Q573.8 307 573.8 318.59999999999997 Q573.8 330.5 586.5 331.2 L605 331.2 Z" fill="#9a9da4" stroke="#4a4a50" stroke-width="0.7" />
<path d="M592.6 303 L605.5 303 L612 309 L612 328.4 L605.5 334.4 L592.6 334.4 L592.6 331 L596 331 L596 306.4 L592.6 306.4 Z" fill="#9a9da4" stroke="#4a4a50" stroke-width="0.6" />
<ellipse cx="588.20" cy="318.60" rx="11.20" ry="8.50" fill="#232327" stroke="#111" stroke-width="0.5" />
<ellipse cx="588.20" cy="318.60" rx="7.60" ry="5.60" fill="#18181b" stroke="#333539" stroke-width="0.6" />
<line x1="588.20" y1="313.20" x2="588.20" y2="324.00" stroke="#3a3b40" stroke-width="0.6" />
<line x1="580.80" y1="318.60" x2="595.60" y2="318.60" stroke="#3a3b40" stroke-width="0.6" />
<circle cx="597.20" cy="307.00" r="1.50" fill="#C6CAD2" stroke="#3C3C40" stroke-width="0.5" />
<circle cx="586.60" cy="307.60" r="1.20" fill="#7d8088" stroke="#3C3C40" stroke-width="0.5" />
<circle cx="606.40" cy="309.60" r="1.30" fill="#C6CAD2" stroke="#3C3C40" stroke-width="0.5" />
<rect x="606.00" y="303.00" width="11.00" height="2.00" fill="#3f4045" stroke="#222" stroke-width="0.3" />
<rect x="607.50" y="303.30" width="1.60" height="1.50" fill="#C6CAD2" stroke="none" stroke-width="0" />
<rect x="611.30" y="303.30" width="1.60" height="1.50" fill="#C6CAD2" stroke="none" stroke-width="0" />
<rect x="615.00" y="303.30" width="1.60" height="1.50" fill="#C6CAD2" stroke="none" stroke-width="0" />
<circle cx="597.20" cy="330.20" r="1.50" fill="#C6CAD2" stroke="#3C3C40" stroke-width="0.5" />
<circle cx="586.60" cy="329.60" r="1.20" fill="#7d8088" stroke="#3C3C40" stroke-width="0.5" />
<circle cx="606.40" cy="327.60" r="1.30" fill="#C6CAD2" stroke="#3C3C40" stroke-width="0.5" />
<rect x="606.00" y="332.20" width="11.00" height="2.00" fill="#3f4045" stroke="#222" stroke-width="0.3" />
<rect x="607.50" y="332.50" width="1.60" height="1.50" fill="#C6CAD2" stroke="none" stroke-width="0" />
<rect x="611.30" y="332.50" width="1.60" height="1.50" fill="#C6CAD2" stroke="none" stroke-width="0" />
<rect x="615.00" y="332.50" width="1.60" height="1.50" fill="#C6CAD2" stroke="none" stroke-width="0" />
<path d="M612.6 306.4 L633 306.4 Q638.8 307 638.8 318.59999999999997 Q638.8 331.4 633 332 L612.6 332 L616 318.59999999999997 Z" fill="#B5483A" stroke="#4a3a3a" stroke-width="0.6" />
<path d="M620 308.8 L629 308.8 Q635.2 309.4 635.2 318.59999999999997 Q635.2 328.4 629 329 L620 329 Z" fill="#A4A7AD" stroke="#4a4a50" stroke-width="0.6" />
<line x1="625.60" y1="309.00" x2="625.60" y2="329.00" stroke="#E8E9EC" stroke-width="1.3" />
<line x1="617.00" y1="318.70" x2="635.00" y2="318.70" stroke="#E8E9EC" stroke-width="1.3" />
<line x1="625.60" y1="309.00" x2="625.60" y2="329.00" stroke="#55565C" stroke-width="0.3" />
<circle cx="625.60" cy="318.70" r="2.90" fill="#C6CAD2" stroke="#4a4a50" stroke-width="0.6" />
<circle cx="625.60" cy="318.70" r="1.60" fill="#F2F1EA" stroke="#77797F" stroke-width="0.4" />
<path d="M606.4 309 L612 306.6 L612 330.8 L606.4 328.4 Z" fill="#6d7078" stroke="#2c2d30" stroke-width="0.5" />
<line x1="608.60" y1="304.00" x2="608.60" y2="333.50" stroke="#222" stroke-width="0.9" />
<path d="M596 318.59999999999997 L609 318.59999999999997" fill="none" stroke="#3C3C40" stroke-width="0.7" />
<path d="M606.5 317.3 L609.5 315.6 L612.5 317.3 L612.5 320.1 L609.5 321.8 L606.5 320.1 Z" fill="#E8E9EC" stroke="#333" stroke-width="0.5" />
<path d="M612.5 317.8 L620 318.3 L620 319.1 L612.5 319.6 Z" fill="#D8D9DC" stroke="#55565C" stroke-width="0.3" />
<path d="M760.6 316.4 L762.6 318 L762.2 320 L760.6 321 L759 320 L758.6 318 Z" fill="#2b2d31" stroke="#1c1d20" stroke-width="0.4" />
<rect x="784.90" y="314.80" width="7.00" height="7.60" fill="#6d7078" stroke="#1c1d20" stroke-width="0.9" />
<circle cx="788.40" cy="318.60" r="2.50" fill="#A4A7AD" stroke="#1c1d20" stroke-width="0.7" />
<circle cx="788.40" cy="318.60" r="1.20" fill="#85888e" stroke="#2c2d30" stroke-width="0.5" />
<circle cx="785.40" cy="315.30" r="0.50" fill="#D8D9DC" stroke="none" stroke-width="0" />
<circle cx="791.40" cy="315.30" r="0.50" fill="#D8D9DC" stroke="none" stroke-width="0" />
<circle cx="785.40" cy="321.90" r="0.50" fill="#D8D9DC" stroke="none" stroke-width="0" />
<circle cx="791.40" cy="321.90" r="0.50" fill="#D8D9DC" stroke="none" stroke-width="0" />
<circle cx="796.60" cy="318.70" r="1.80" fill="#F2F1EA" stroke="#77797F" stroke-width="0.5" />
<rect x="803.80" y="317.30" width="5.60" height="2.80" rx="0.5" fill="#E8E8E4" stroke="#55565C" stroke-width="0.55"/>
<rect x="819.40" y="316.80" width="7.60" height="3.80" fill="#3f4348" stroke="#222" stroke-width="0.4" />
<rect x="821.00" y="318.00" width="1.10" height="1.40" fill="#E8E9EC" stroke="none" stroke-width="0" />
<rect x="823.20" y="318.00" width="1.10" height="1.40" fill="#E8E9EC" stroke="none" stroke-width="0" />
<rect x="825.20" y="318.00" width="1.10" height="1.40" fill="#E8E9EC" stroke="none" stroke-width="0" />
<line x1="813.80" y1="309.08" x2="813.80" y2="327.72" stroke="#3C3C40" stroke-width="0.8" />
</g>
<rect x="269.60" y="6.10" width="21.80" height="4.10" fill="#DA2410" stroke="none" stroke-width="0" />
<rect x="269.60" y="10.20" width="21.80" height="3.70" fill="#FBF8EC" stroke="none" stroke-width="0" />
<rect x="269.60" y="13.90" width="21.80" height="4.20" fill="#DA2410" stroke="none" stroke-width="0" />
<path d="M274.2 8.6 L275.4 7.4 L276.0 8.2 L277.0 7.1 L278.0 8.2 L278.6 7.4 L279.8 8.6 L279.4 10.6 L274.6 10.6 Z" fill="#D98A18" stroke="none" stroke-width="0" />
<rect x="275.60" y="8.80" width="2.80" height="1.40" fill="#8a7a50" stroke="none" stroke-width="0" />
<path d="M274.8 10.6 L279.2 10.6 L279.2 13.4 Q277 15.2 274.8 13.4 Z" fill="#E2432A" stroke="#E0C080" stroke-width="0.3" />
<rect x="275.00" y="11.70" width="4.00" height="1.10" fill="#FBF8EC" stroke="none" stroke-width="0" />
<g id="texts" fill="#0a0a0a" stroke="#0a0a0a" stroke-width="0.22" style="filter:grayscale(1)">
<text x="11.6" y="17.7" font-size="16.3" textLength="252.6" lengthAdjust="spacingAndGlyphs">Warship Projects Profile No.AH001a</text>
<rect x="793.30" y="48.00" width="71.20" height="43.20" fill="none" stroke="#1a1a1a" stroke-width="1.1" />
<text x="828.9" y="56.90" font-size="8.4" font-weight="bold" text-anchor="middle" textLength="63.4" lengthAdjust="spacingAndGlyphs">KuK Kriegsmarine</text>
<text x="828.9" y="67.35" font-size="8.4" font-weight="bold" text-anchor="middle" textLength="33.6" lengthAdjust="spacingAndGlyphs">Project Ia</text>
<text x="828.9" y="77.80" font-size="8.4" font-weight="bold" text-anchor="middle" textLength="45.4" lengthAdjust="spacingAndGlyphs">Battlecruiser</text>
<text x="828.9" y="88.25" font-size="8.4" font-weight="bold" text-anchor="middle" textLength="43.6" lengthAdjust="spacingAndGlyphs">Design 1916</text>
<text x="262" y="401.60" font-size="8.3" textLength="434.4" lengthAdjust="spacingAndGlyphs">Projekt Ia, Dec. 1916 – Length (wl.): 721’/220m; Displacement: 34.000 t; Speed: 30 knots; Propulsion: Steam – 100.000 SHP</text>
<text x="262" y="412.48" font-size="8.3" textLength="393.0" lengthAdjust="spacingAndGlyphs">Armament: 3 X 3 – 35cm/45 K14, 18 X 1 – 15cm/50 K10, 18 X 1 – 9cm/45 QF/AA gun, 6 X 1 53cm TT submerged</text>
<text x="262" y="423.36" font-size="8.3" textLength="377.0" lengthAdjust="spacingAndGlyphs">Protection: Belt : 225mm (100mm forward &amp; aft); Main protective deck(s): 20+20mm, Turrets: 225-350mm</text>
<text x="262" y="434.24" font-size="8.3" textLength="393.6" lengthAdjust="spacingAndGlyphs">First variant of AH Monarchy’s battlecruiser design series: they differed only in number and layout of armament</text>
<rect x="838.70" y="391.40" width="23.20" height="9.40" fill="none" stroke="#6a6a68" stroke-width="0.9" rx="0.8"/>
<text x="840.9" y="398.7" font-size="7.6" fill="#111" stroke="none" textLength="18.6" lengthAdjust="spacingAndGlyphs" style="font-variant:small-caps">TZoli</text>
</g>
</svg>
</body>
</html>
